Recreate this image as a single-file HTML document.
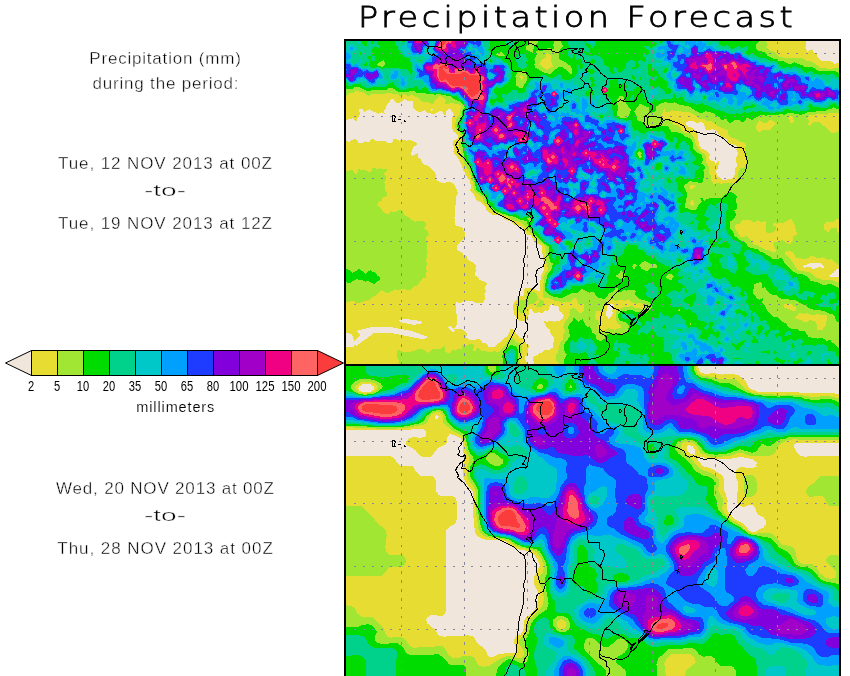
<!DOCTYPE html>
<html><head><meta charset="utf-8"><title>Precipitation Forecast</title>
<style>
html,body{margin:0;padding:0;background:#fff;}
body{width:850px;height:676px;overflow:hidden;position:relative;font-family:"Liberation Sans",sans-serif;}
svg{position:absolute;left:0;top:0;}
text{font-family:"Liberation Sans",sans-serif;fill:#000;}
</style></head><body>
<svg width="850" height="676" viewBox="0 0 850 676">
<rect width="850" height="676" fill="#fff"/>
<g id="map1" shape-rendering="crispEdges"><rect x="346" y="41" width="493" height="323" fill="#f0e6dc"/>
<path transform="translate(.5 .5)" fill="#e6dc32" stroke="#e6dc32" stroke-width="1" fill-rule="evenodd" d="M346,141 346,363 526,363 523,357 525,356 527,353 527,348 528,347 528,345 525,343 524,340 522,338 519,338 512,329 510,329 510,331 508,335 494,347 488,347 485,343 482,343 479,339 476,339 475,340 469,340 465,337 466,333 461,329 454,329 453,328 456,324 455,302 456,301 459,302 463,300 472,300 475,302 482,302 484,298 484,295 483,294 485,290 484,289 484,286 486,284 485,282 479,280 477,277 474,275 474,272 475,271 475,269 474,268 475,267 475,265 472,262 469,261 466,258 466,256 465,255 463,255 461,252 456,250 456,245 463,238 464,238 464,233 461,227 456,226 454,224 454,218 453,217 454,215 454,205 455,204 455,196 457,193 454,185 450,182 441,183 437,181 435,179 435,175 433,171 429,167 426,165 424,165 421,162 420,159 417,157 417,153 412,156 410,155 411,149 413,146 416,144 416,143 413,141 411,141 410,140 407,140 406,141 405,140 401,140 399,141 396,139 393,139 393,141 391,143 387,143 385,141 375,141 373,139 371,139 369,142 366,142 365,141 362,143 358,143 355,139 353,139 349,142ZM346,41 346,119 353,117 354,119 356,120 356,118 359,114 359,112 358,111 358,109 359,108 362,108 364,111 369,108 373,111 375,111 378,113 381,111 384,113 383,112 383,110 385,108 386,104 391,98 393,98 395,101 397,102 399,102 404,98 407,100 412,100 413,101 413,106 414,108 418,111 421,111 424,109 427,112 434,113 439,110 442,110 444,114 445,114 445,111 448,108 450,108 454,114 452,117 452,128 453,129 453,131 454,131 458,135 458,138 453,141 453,145 454,146 454,150 453,151 459,159 462,165 463,170 465,172 465,174 470,180 470,183 471,184 471,188 470,190 474,194 477,200 480,201 486,207 486,209 492,214 498,214 499,215 501,215 505,219 510,220 514,224 520,225 524,229 524,231 527,234 530,234 532,236 535,242 540,244 542,246 542,253 543,254 543,260 544,261 544,270 541,275 541,279 540,280 540,290 539,291 537,291 531,288 525,288 524,290 524,294 522,296 518,296 517,297 517,299 513,304 514,314 519,320 525,320 528,313 528,310 530,308 531,308 534,312 537,312 538,311 542,312 545,309 547,310 548,309 549,304 551,303 554,305 557,305 559,307 559,310 561,311 564,315 563,316 563,318 559,321 555,321 554,322 552,321 548,321 547,322 544,321 546,326 550,329 550,332 554,337 553,347 549,350 544,350 541,353 539,353 537,355 534,356 533,357 534,363 838,363 838,277 830,277 828,275 834,271 836,268 838,268 838,63 834,64 830,61 821,61 816,56 816,54 812,52 812,50 811,49 807,52 804,47 805,45 805,41ZM612,303 614,305 614,307 612,310 613,313 610,318 608,319 605,315 606,306 609,303ZM802,266 804,264 806,264 809,262 820,262 824,266 824,267 823,268 818,267 817,268 812,269 810,267 806,267 804,268ZM688,120 693,120 696,122 701,121 704,123 705,128 707,129 710,129 711,128 715,129 722,137 724,137 727,139 727,142 735,144 737,146 737,148 736,149 738,152 738,154 736,158 737,166 735,168 735,173 733,178 731,179 722,180 716,175 715,170 717,168 718,161 715,164 713,161 711,161 708,158 708,156 709,155 708,153 705,150 701,149 698,145 698,141 697,140 697,134 692,128 688,127 685,124 685,122ZM429,110 430,108 432,108 433,109 431,111Z"/>
<path transform="translate(.5 .5)" fill="#a0e632" stroke="#a0e632" stroke-width="1" fill-rule="evenodd" d="M521,343 517,343 515,342 511,337 507,341 506,344 498,352 496,352 495,351 493,351 492,352 481,351 478,348 477,348 475,351 473,351 472,350 473,345 472,344 470,344 466,346 465,345 462,345 462,348 461,349 452,350 450,353 447,353 444,351 444,346 440,349 432,349 428,353 422,349 417,349 414,351 411,351 410,352 403,352 398,350 397,351 397,357 399,360 399,362 398,363 519,363 519,357 521,353ZM543,301 542,300 539,300 537,298 537,296 534,292 529,291 527,292 526,298 524,300 520,300 517,304 517,308 520,312 523,312 525,310 526,306 529,303 533,303 537,299 538,299 539,300 539,302 536,306 541,306 543,303ZM386,169 381,169 380,168 379,169 376,169 375,168 372,168 372,170 370,172 368,172 365,170 360,170 358,169 358,171 356,174 354,174 352,170 346,171 346,301 354,300 355,301 355,303 356,302 363,301 366,299 367,300 372,296 375,295 381,289 387,292 395,288 397,289 400,289 401,288 410,289 414,285 416,285 422,277 425,277 425,272 426,271 425,269 425,266 426,265 425,259 426,258 426,252 427,251 426,250 426,241 425,240 425,237 428,234 427,231 423,228 425,225 425,223 423,221 417,221 415,222 411,220 408,217 404,216 401,210 398,210 395,212 392,212 391,211 388,214 386,214 384,213 376,204 378,201 381,200 381,198 383,196 385,196 386,195 386,192 384,190 384,183 383,182 385,178 385,176 383,174 383,172 385,171ZM346,41 346,95 349,92 353,92 355,90 362,91 368,95 371,93 385,93 386,92 397,93 399,95 401,95 404,93 407,95 412,94 415,96 417,96 422,101 428,101 431,103 432,103 434,100 439,95 440,95 446,99 445,103 453,102 454,103 458,103 462,106 460,110 460,114 456,119 455,127 462,136 461,140 459,142 459,147 461,151 461,156 464,160 464,162 467,168 469,170 469,172 472,177 474,190 483,197 483,199 485,203 486,203 494,212 497,212 504,215 507,215 509,217 515,220 520,221 540,242 543,243 546,247 546,262 547,263 548,270 545,273 543,278 544,279 544,282 543,283 543,296 544,297 549,297 550,298 552,298 554,300 558,300 561,302 563,301 569,301 571,300 573,297 575,297 577,299 578,303 583,303 584,304 584,310 581,313 579,313 574,308 570,309 570,311 569,312 570,313 570,315 564,323 564,325 563,326 565,330 563,335 563,339 560,342 558,352 556,354 556,360 557,360 559,363 838,363 838,282 835,282 832,280 822,280 821,279 816,278 809,272 805,272 804,271 799,271 797,270 789,258 784,254 784,252 786,250 790,250 793,252 796,257 806,258 810,255 813,255 816,257 821,257 822,256 828,259 829,258 831,258 838,264 838,233 836,231 836,228 831,228 829,232 827,232 823,229 823,224 827,220 829,221 833,221 836,218 838,218 838,131 835,133 831,133 819,122 813,122 810,126 807,124 808,120 806,118 809,114 815,114 816,113 824,113 826,114 828,112 838,112 838,68 833,68 832,69 820,68 814,63 809,61 806,61 802,58 783,58 782,57 779,57 774,52 770,51 765,47 767,44 765,41ZM794,317 799,312 801,312 802,313 807,312 810,314 815,314 816,313 818,313 819,314 825,314 827,316 827,320 826,321 826,325 822,330 817,330 816,329 816,324 814,321 809,320 807,322 803,322 801,320 796,319ZM783,304 784,303 791,303 796,307 796,310 795,311 792,311 789,309 784,308 783,307ZM644,304 644,307 642,309 640,309 639,308 634,308 632,306 630,306 629,307 624,307 617,310 616,311 616,319 618,323 621,325 621,327 620,328 618,328 615,330 608,328 603,332 601,332 597,328 598,321 595,319 594,317 594,315 595,314 594,313 596,310 601,310 602,309 602,306 610,297 614,300 617,300 618,299 622,299 624,300 628,298 632,302 634,302 635,303 637,302 641,302ZM798,234 793,236 793,240 790,244 788,244 782,240 778,242 774,242 774,246 777,251 773,253 767,250 765,250 756,245 754,245 746,236 744,237 740,237 734,228 734,225 736,223 739,223 741,219 750,219 752,221 755,221 757,219 761,221 764,220 766,222 766,231 767,232 771,232 775,229 775,226 773,226 772,225 772,223 773,222 775,222 776,223 778,222 783,222 791,217 795,225 796,231ZM691,199 692,199 694,202 694,204 692,206 688,203ZM689,188 689,185 690,184 694,184 696,186 692,189 690,189ZM648,124 650,123 651,125 650,126ZM755,128 755,125 759,119 763,122 766,122 769,119 771,119 777,123 774,125 770,130 762,130 760,132 757,132ZM787,116 788,115 791,115 793,117 794,121 792,123 790,123 789,122 789,120 787,118ZM621,112 622,111 623,113 622,114ZM662,109 664,108 665,109 665,111 669,111 672,109 674,110 680,110 681,111 689,111 695,114 699,118 704,118 706,120 711,120 719,126 727,129 728,130 728,134 731,137 734,137 740,141 743,141 746,144 746,146 745,147 745,153 746,154 747,161 745,166 743,168 740,168 738,173 738,178 737,180 734,183 723,183 722,184 716,183 715,184 713,184 710,180 710,175 708,173 708,166 705,162 705,155 698,150 697,147 695,145 694,139 690,133 685,133 683,132 677,125 673,125 669,120 667,119 661,119 660,118 660,114 662,112ZM520,74 523,76 523,78 521,80 518,76ZM547,52 551,55 552,57 551,58 551,61 552,62 552,64 554,66 546,70 538,64 540,60 542,58 545,57 545,54Z"/>
<path transform="translate(.5 .5)" fill="#00dc00" stroke="#00dc00" stroke-width="1" fill-rule="evenodd" d="M515,346 510,345 503,352 503,354 502,355 502,357 503,358 503,363 517,363 517,350ZM346,269 346,281 348,282 350,282 352,280 357,278 358,279 362,279 365,281 366,280 368,280 374,283 375,281 379,279 379,277 377,276 374,272 372,272 370,270 365,274 359,269 352,273 349,270ZM346,41 346,88 352,88 354,86 359,86 367,90 370,90 371,89 386,89 388,87 392,87 398,91 408,91 409,90 414,90 416,92 425,92 426,93 433,93 434,94 436,93 440,93 441,94 450,95 455,99 459,100 464,105 465,107 462,111 462,116 458,122 457,126 463,134 463,140 462,141 463,152 464,153 464,156 471,169 473,177 475,180 474,181 475,182 476,189 484,195 486,198 486,200 495,210 499,211 502,213 505,213 509,215 515,216 520,219 526,220 527,221 528,226 542,241 549,246 549,253 548,255 549,256 550,261 553,263 551,270 547,275 546,282 545,283 545,290 549,294 554,296 561,297 571,292 577,292 581,288 582,288 587,291 593,291 598,297 604,298 609,292 612,291 615,287 617,287 618,288 618,291 621,291 623,289 625,289 626,290 627,289 634,289 636,291 635,293 636,295 639,298 647,300 650,302 652,307 646,313 644,313 643,312 635,312 632,310 627,310 626,311 622,311 618,314 618,317 620,320 625,321 629,325 628,330 625,333 623,333 622,334 620,334 619,333 612,334 610,333 606,335 605,338 601,341 599,341 595,339 595,335 591,332 590,328 587,327 584,324 582,319 578,322 574,318 573,318 573,320 568,326 570,336 564,344 564,350 567,354 564,360 564,363 838,363 838,349 837,347 830,341 830,340 826,341 822,338 818,338 817,339 815,338 811,338 810,337 808,337 804,331 799,331 797,329 792,329 787,327 785,323 782,322 777,317 773,317 766,310 765,307 761,302 762,298 759,300 757,299 752,293 753,284 756,282 760,281 762,283 762,287 765,286 767,290 772,294 776,294 781,298 795,299 803,304 805,304 810,308 812,308 813,309 820,309 821,310 824,310 829,313 832,313 835,316 836,320 838,321 838,288 831,284 822,285 816,282 810,281 807,277 801,274 798,274 793,272 784,263 781,258 779,258 778,259 772,259 769,256 766,255 762,252 760,252 757,249 750,248 747,246 744,242 739,240 733,235 732,231 729,228 729,221 734,217 735,214 733,210 736,208 736,203 735,202 735,198 736,196 731,192 728,192 721,198 709,198 708,199 706,199 704,201 702,200 702,198 700,198 702,201 698,205 697,208 695,210 690,210 687,208 685,208 684,207 684,203 685,202 685,198 686,197 686,192 683,187 683,185 689,180 691,180 692,181 697,181 698,182 701,182 702,181 702,178 703,177 703,172 702,170 704,168 704,166 700,163 702,160 701,155 697,153 692,148 692,142 689,138 685,137 680,133 678,133 677,132 671,132 667,126 657,126 651,129 647,128 642,123 642,122 638,121 636,119 636,116 633,111 639,103 641,103 644,105 648,106 649,107 649,111 651,112 652,111 654,111 655,110 655,106 661,102 663,102 664,101 666,101 667,102 673,102 674,101 679,104 688,105 699,112 702,112 705,110 713,112 716,115 719,116 721,119 726,118 728,121 730,122 734,119 739,119 741,121 743,121 746,117 748,117 752,119 754,117 760,114 764,114 765,115 767,114 778,114 779,113 782,113 783,114 787,112 793,112 794,113 798,113 800,114 808,111 824,110 828,108 831,108 833,106 836,108 838,108 838,73 835,71 818,71 812,67 804,67 802,65 797,64 794,62 791,64 788,64 783,61 778,61 776,59 774,59 767,56 764,52 758,51 755,48 755,44 758,41 561,41 563,46 559,51 559,58 565,61 571,66 572,68 572,73 571,74 570,74 562,67 558,67 550,74 544,73 534,67 534,65 533,64 534,63 534,61 533,59 536,54 535,51 538,49 539,50 542,50 547,47 553,48 553,46 552,45 553,41 538,41 538,42 534,46 533,52 532,53 529,51 527,51 525,49 525,46 527,44 528,41ZM688,323 690,322 692,324 690,325ZM677,310 679,308 681,309 680,311 678,311ZM668,273 671,273 674,276 671,280 669,280 665,278 665,276ZM620,269 621,269 625,274 625,277 623,279 619,279 615,276 615,275 618,273ZM633,263 635,263 637,265 634,269 633,269 631,266ZM638,265 642,261 645,260 651,263 655,263 657,265 657,267 656,268 650,268 647,271 645,271 641,269ZM529,216 531,218 531,221 530,222 529,222 526,218ZM639,150 642,153 641,154 642,156 641,158 639,158 636,153ZM619,95 622,95 624,97 626,101 626,103 631,109 629,115 626,118 620,118 616,115 616,111 617,110 616,99ZM519,70 524,70 526,72 526,74 527,75 527,80 522,88 519,88 515,85 515,78 514,76 516,72ZM383,59 385,62 385,64 382,67 378,66 376,64 379,61ZM495,54 497,52 501,51 505,55 504,56 498,56Z"/>
<path transform="translate(.5 .5)" fill="#00d28c" stroke="#00d28c" stroke-width="1" fill-rule="evenodd" d="M510,349 505,354 505,358 507,360 508,363 515,363 515,360 514,359 515,352 513,349ZM615,341 613,349 614,350 617,350 619,352 619,354 620,355 618,357 616,357 615,358 614,363 625,363 625,361 626,360 628,360 629,361 629,363 647,363 648,358 646,354 642,355 642,358 641,359 639,357 640,356 639,354 635,355 634,354 630,354 628,352 627,348 630,346 625,343 620,343 619,344 617,342 617,340ZM619,346 620,347 620,349 618,351 617,350 617,347ZM570,342 570,350 571,352 577,352 579,353 580,352 585,351 588,354 588,356 589,357 589,361 588,363 596,363 595,361 593,360 593,357 594,356 598,357 598,355 596,355 595,356 593,354 596,348 596,346 590,338 589,339 584,339 581,337 579,338 576,342 574,342 572,340ZM790,332 787,331 784,335 790,334ZM621,314 621,317 632,319 635,322 641,325 640,322 636,318 635,318 632,314ZM838,300 836,303 834,303 831,305 828,302 828,299 829,298 833,298 835,297 834,293 833,292 831,292 830,293 828,293 826,296 822,295 820,298 823,300 823,302 818,304 818,305 819,306 830,306 833,310 835,310 835,306 838,304ZM644,285 647,289 646,295 649,297 656,298 657,297 657,292 658,291 657,290 657,288 654,286 653,283 648,283 646,285ZM744,252 744,255 746,258 746,260 750,263 748,266 745,267 745,269 754,274 767,273 768,274 768,276 771,279 773,284 777,287 778,290 782,290 784,293 787,295 790,295 793,293 795,293 799,298 801,298 802,299 806,299 806,296 807,295 809,295 811,297 813,296 814,293 813,292 809,292 808,291 804,291 801,294 799,294 797,292 799,289 797,278 796,277 792,278 786,270 779,267 777,265 771,265 768,261 764,259 761,255 756,254 749,250 746,250ZM754,268 756,267 757,269 755,270ZM633,95 632,95 630,98 631,100 633,98ZM657,76 655,76 653,79 654,80ZM518,54 516,57 516,61 518,64 518,66 521,68 525,67 526,66 526,64 525,63 525,61 526,60 525,55 523,54ZM505,41 506,43 512,47 513,42 514,41ZM346,41 346,81 348,85 350,85 354,83 360,83 362,85 367,87 371,87 372,86 385,86 388,83 393,81 394,82 394,84 400,89 405,89 408,87 413,87 415,85 416,85 418,88 420,89 422,87 425,86 427,87 429,91 431,92 441,92 442,93 448,93 452,95 456,95 463,101 466,106 466,108 463,112 464,115 461,122 459,124 459,126 462,129 464,133 464,146 465,147 465,151 466,152 468,160 471,164 471,167 473,170 473,173 476,179 477,187 480,191 486,194 488,196 488,199 493,203 494,206 501,211 503,211 510,214 513,214 514,213 521,217 526,216 530,213 532,215 532,218 533,219 533,222 531,224 532,228 536,231 547,243 550,244 552,246 552,248 553,249 552,256 553,258 555,259 555,256 556,255 559,255 560,256 560,258 559,259 559,264 555,266 553,270 553,272 548,278 548,282 546,287 550,292 552,293 561,293 561,291 565,288 569,289 572,285 582,285 586,283 591,283 592,282 595,282 600,288 602,288 606,283 606,277 609,272 609,266 612,262 615,265 617,263 617,262 613,259 612,254 614,253 618,256 623,252 623,249 627,243 629,243 630,244 636,244 639,249 642,249 646,253 646,254 650,255 652,258 654,256 657,260 663,263 665,265 668,265 672,269 677,267 679,269 678,275 679,276 680,276 681,274 683,275 683,277 681,279 678,280 678,282 680,282 684,285 688,291 686,293 684,291 684,288 683,287 682,288 682,290 679,292 673,290 668,293 666,295 672,299 671,301 671,305 672,306 680,306 681,305 685,309 689,308 693,312 695,312 697,315 697,318 698,319 705,321 708,324 704,327 704,328 706,329 708,327 708,323 710,321 712,321 714,323 712,326 713,330 714,331 718,330 720,333 719,336 717,338 715,338 712,334 710,334 707,340 701,339 698,337 701,332 701,330 699,330 696,327 690,327 688,328 685,324 685,320 682,319 681,318 681,316 676,314 670,318 666,315 665,316 663,316 660,312 659,313 659,317 658,318 654,318 651,322 646,321 645,322 645,324 638,330 637,333 639,334 639,333 642,331 646,333 648,332 651,328 652,328 658,336 663,336 664,337 663,339 664,341 664,348 663,350 665,351 667,350 672,354 672,359 674,363 747,363 748,362 749,363 754,363 756,360 758,360 760,363 780,363 779,362 776,362 773,359 776,356 782,359 784,359 785,360 784,363 792,363 792,361 793,360 796,360 799,357 801,357 803,360 801,362 798,363 827,363 826,360 828,358 832,363 836,363 838,361 838,357 835,355 835,353 832,351 828,351 827,350 827,347 823,344 821,344 820,345 818,344 815,346 813,346 812,345 804,345 802,346 800,344 802,342 802,340 801,339 797,339 794,341 791,339 789,339 784,342 782,342 781,341 781,336 778,336 776,338 774,336 774,334 779,331 777,329 776,330 771,330 766,337 763,333 765,330 769,329 768,325 765,323 766,321 765,320 763,320 761,322 759,320 757,315 754,312 752,313 752,315 754,317 754,321 752,322 750,320 750,312 751,311 748,308 748,305 745,302 745,300 747,298 746,293 744,291 745,295 742,297 739,294 739,292 740,291 740,288 737,286 735,287 731,287 728,281 724,277 721,279 714,278 710,274 709,271 706,268 708,266 710,266 711,265 711,263 709,261 709,259 708,258 708,254 712,251 716,253 720,253 723,255 723,257 719,259 719,261 721,263 721,265 723,268 726,268 734,273 737,267 736,261 731,253 733,251 736,253 739,253 741,245 736,241 732,240 730,236 726,232 726,230 725,229 725,211 727,208 727,205 725,203 722,203 721,202 717,203 715,207 711,204 709,205 704,215 710,218 709,220 706,221 706,224 711,230 710,232 707,232 705,230 705,228 702,230 698,230 696,228 698,221 697,220 695,220 694,218 697,214 693,214 688,212 683,212 682,213 680,213 679,212 678,205 680,204 680,203 678,203 677,202 677,198 679,196 681,196 682,195 681,193 677,190 677,184 674,180 675,178 679,175 683,176 684,178 686,178 687,177 693,178 694,177 694,170 698,168 698,166 694,165 691,162 691,161 695,159 695,158 689,150 689,146 687,145 684,141 682,141 679,144 679,147 676,149 674,147 674,145 676,142 676,138 674,137 673,138 673,141 672,142 670,142 665,138 664,133 662,131 659,131 658,132 656,131 648,131 644,134 640,133 637,130 635,130 634,131 631,126 631,121 630,120 626,121 625,120 615,118 612,114 611,105 609,102 610,101 610,99 608,97 605,96 601,92 601,90 602,89 609,87 608,81 610,79 613,79 615,77 617,77 618,78 618,83 622,83 624,81 627,85 626,90 632,90 636,86 638,86 641,84 643,87 640,91 644,94 644,97 647,99 647,101 648,102 651,102 654,98 657,100 661,98 671,98 672,97 672,95 674,93 676,95 676,97 677,98 681,95 683,97 684,100 687,102 693,102 696,104 702,102 704,104 707,104 713,107 715,109 719,109 720,110 725,111 728,113 735,113 736,112 740,113 744,111 748,112 752,110 756,111 759,109 762,111 774,112 775,111 782,111 785,108 788,108 791,110 797,110 799,111 800,110 805,110 809,108 807,106 809,103 811,103 813,106 818,106 819,107 826,107 833,102 835,102 836,104 838,105 838,77 835,77 833,74 829,74 828,75 825,75 824,74 822,74 821,75 819,75 818,74 813,74 811,71 809,71 806,73 805,72 803,72 800,68 797,68 794,66 791,68 789,68 788,67 781,68 778,64 774,61 769,61 765,58 759,58 757,56 752,54 747,55 745,53 745,51 747,49 747,47 746,46 742,48 737,46 731,50 727,45 725,46 721,46 718,43 718,41 663,41 662,43 659,43 658,41 653,41 658,43 651,48 649,48 648,46 644,46 649,50 649,53 647,55 645,55 643,53 643,55 646,57 646,60 644,62 639,60 638,61 639,66 637,68 633,70 631,69 631,67 632,66 634,66 635,62 632,60 630,60 626,63 626,67 621,72 618,73 615,67 614,67 613,69 615,72 613,74 611,74 608,70 608,67 603,64 603,61 599,56 597,56 596,55 593,55 592,56 585,55 582,51 583,50 585,50 589,52 589,48 588,48 584,44 584,42 585,41 589,43 591,45 591,47 593,46 595,43 595,41 585,41 584,42 583,41 568,41 568,44 570,47 568,52 568,55 571,58 572,57 572,54 574,53 575,54 575,58 576,59 577,58 580,58 582,60 582,63 583,64 583,67 581,69 580,69 578,67 578,65 577,65 578,72 574,77 569,80 564,80 561,78 561,76 559,74 552,78 549,78 545,75 541,75 538,77 531,79 525,88 525,91 522,93 518,93 516,90 512,90 506,95 502,94 503,101 501,103 496,101 493,105 491,105 489,102 489,99 490,98 495,98 496,97 496,95 493,92 493,89 496,86 498,87 502,86 509,80 511,75 511,70 509,68 507,63 503,62 500,58 497,58 491,55 490,52 487,49 489,46 489,41 405,41 404,43 402,43 401,41 395,41 395,44 398,46 398,49 402,53 402,54 405,57 408,57 410,59 410,61 412,64 412,70 413,71 411,74 410,74 407,70 405,69 400,69 399,68 390,68 389,69 387,68 381,69 378,67 371,68 368,65 369,61 366,57 368,55 371,55 372,56 371,57 371,60 374,60 374,56 372,56 371,55 371,49 372,47 375,45 378,47 379,46 376,43 376,41 374,41 372,44 370,43 370,41 367,41 367,45 366,46 364,46 361,43 361,41ZM786,360 787,359 789,359 790,361 788,362ZM784,359 785,358 787,359 786,360ZM732,358 733,357 740,357 741,358 740,359 733,359ZM781,352 782,351 783,353 782,354ZM809,349 811,351 811,353 809,355 807,355 806,354 806,352ZM773,350 775,349 777,352 774,354 773,353ZM770,351 770,353 769,354 767,354 766,353 761,353 760,352 762,350 766,350 767,348ZM792,342 794,343 794,345 795,346 793,349 791,347 791,345 790,344ZM716,342 718,340 720,341 721,343 720,344 718,344ZM745,340 744,343 741,346 739,350 736,350 734,347 731,345 731,343 732,342 736,344 738,342 744,339ZM752,335 754,335 758,340 758,343 757,344 756,343 752,343 750,341 752,339 752,337 751,336ZM729,330 730,329 731,331 730,332ZM749,328 751,332 751,334 750,335 748,335 745,333 745,331ZM677,329 678,328 681,328 682,330 680,331ZM760,324 762,325 764,328 759,335 756,335 755,333 757,330 757,326ZM663,324 665,324 666,325 666,327 664,329 661,327ZM734,311 736,309 739,308 741,310 744,310 748,314 748,315 744,317 740,313 736,314ZM715,302 718,300 720,303 719,304 717,304ZM694,292 696,294 696,299 693,302 693,305 690,307 683,301 683,299 686,296ZM729,288 730,289 730,291 729,292 727,290ZM689,276 690,277 690,279 688,280 687,278ZM559,266 560,268 558,270 557,268ZM679,257 681,258 681,261 680,262 678,262 677,261 677,259ZM619,246 620,245 622,246 621,247ZM589,241 590,243 587,245 586,243ZM566,240 571,241 573,244 573,246 570,249 568,248 568,245 566,245 564,243ZM708,240 710,238 714,240 716,240 719,236 722,239 719,241 718,243 721,243 723,240 726,240 731,245 728,248 723,248 722,247 721,248 719,248 716,245 714,247 712,247 708,242ZM693,219 694,221 692,223 689,224 688,223ZM715,207 716,206 718,208 716,209ZM660,207 661,206 662,208 661,209ZM666,178 667,177 669,177 672,181 669,184 666,181ZM649,178 650,177 652,178 651,179ZM686,162 688,164 687,166 684,164ZM656,162 660,162 662,165 660,170 655,170 654,169 654,166ZM638,148 641,148 643,150 643,155 644,157 642,160 639,160 635,156 635,151ZM599,114 602,114 603,115 603,117 601,119 597,116ZM755,105 755,106 752,108 747,108 745,110 743,110 742,109 742,107 745,105 750,105 752,103ZM702,96 703,95 705,95 706,97 704,99ZM590,88 594,92 594,94 593,95 586,96 584,93 586,90ZM640,76 641,77 641,79 640,80 638,78ZM590,76 592,76 595,80 594,81 595,85 591,88 589,86 591,82 588,78ZM409,77 411,76 412,77 412,79 411,80ZM632,74 633,74 635,77 635,79 633,81 631,78 631,75ZM387,74 388,75 388,77 387,78 386,77 386,75ZM587,69 588,68 592,68 594,69 595,71 592,74 590,74 587,71ZM666,67 667,68 667,71 665,73 663,73 662,71 663,69ZM649,62 652,64 652,67 658,71 659,75 660,76 662,76 663,78 667,81 668,83 667,87 669,87 671,89 671,92 669,94 665,94 664,93 664,91 658,86 655,88 652,88 648,84 648,79 651,77 647,74 647,64ZM366,61 368,64 366,66 363,66 362,64ZM592,58 595,60 595,62 593,65 591,65 589,63 589,61ZM490,58 492,59 492,61 491,62 489,62 488,61ZM421,58 422,60 420,61 419,60ZM358,52 360,51 361,52 361,54 360,55ZM575,48 576,47 577,49 576,50Z"/>
<path transform="translate(.5 .5)" fill="#00c8c8" stroke="#00c8c8" stroke-width="1" fill-rule="evenodd" d="M636,363 640,363 639,362 637,362ZM733,362 733,363 742,363 738,361ZM810,359 808,358 803,363 810,363ZM828,354 827,353 823,353 821,357 821,360 822,360 822,357 825,354ZM509,353 507,358 509,361 509,363 513,363 513,355 512,353ZM795,353 794,352 790,353 789,354 789,356 794,357 795,356ZM622,352 622,353 625,355 625,353 624,352ZM744,348 744,350 748,352 748,351ZM788,345 786,350 789,348 789,346ZM591,344 589,345 589,347 590,348 589,352 593,349 593,347ZM746,343 745,345 746,346 748,346 749,344 748,343ZM580,341 580,342 576,346 580,349 582,349 586,346 585,345 585,342 584,343ZM762,335 760,337 761,338 762,338ZM667,331 669,333 671,333 672,334 673,333 675,333 679,336 679,338 674,341 675,343 672,345 672,348 677,348 679,346 681,348 678,352 677,355 675,356 675,359 676,360 679,360 680,361 680,363 688,363 691,361 692,361 693,363 705,363 705,361 706,360 708,360 710,363 727,363 728,362 727,356 722,354 724,351 724,349 722,346 718,346 715,348 712,345 710,345 706,342 704,342 701,340 698,340 696,338 696,333 694,331 694,329 692,329 688,333 686,332 683,332 682,333 677,332 675,329 673,329 670,331ZM691,339 692,340 692,344 690,346 687,342ZM683,334 685,336 685,339 684,340 681,338 681,336ZM756,324 753,324 752,325 752,328 753,329 754,329ZM674,325 675,326 681,326 682,327 684,327 684,325 683,324 675,324ZM735,322 733,322 731,324 734,326 735,325ZM708,318 707,317 704,318 705,319 707,319ZM740,315 738,316 740,319 740,326 737,330 733,332 733,335 737,339 739,339 740,338 737,336 737,334 743,329 746,328 750,324 748,319 746,319 744,322 742,322 741,321 741,316ZM678,295 678,297 681,297 680,295ZM778,269 774,274 774,276 775,277 775,279 777,278 778,279 785,279 786,280 787,283 783,287 784,289 788,290 791,287 796,288 796,284 789,279 786,275 783,275 782,274 782,271 780,269ZM728,256 727,265 729,267 732,268 734,265 734,262 733,261 733,259 730,256ZM748,254 748,257 752,260 752,266 756,262 758,262 760,264 759,266 762,270 766,270 767,269 768,266 765,262 761,261 758,259 754,259 751,257 751,254ZM715,234 713,234 712,236 714,237 715,236ZM721,232 721,235 724,237 726,237 725,234 723,232ZM723,225 721,224 719,226 719,228 721,228ZM717,221 716,221 711,227 713,229 716,229 716,223ZM717,215 717,217 721,217 723,218 723,214 718,214ZM657,89 654,89 650,91 650,93 649,94 649,99 650,99 653,95 655,95 657,93ZM584,82 583,83 583,85 586,87 587,83 586,82ZM599,74 597,74 597,75 598,76ZM586,73 584,71 583,72 581,72 580,73 580,75 582,76 583,75 585,75ZM639,70 636,72 638,72ZM389,71 390,73 390,79 396,79 398,78 399,79 399,81 398,82 399,83 399,85 401,87 403,87 406,85 407,83 407,77 406,76 402,76 400,74 399,70 395,69 394,70ZM349,44 348,45 348,48 346,49 346,79 350,83 360,81 361,80 365,80 369,85 374,85 377,83 384,83 386,81 383,79 383,74 379,69 375,68 372,70 370,70 368,68 362,68 359,66 359,63 361,61 361,59 360,59 358,62 354,64 352,64 350,61 351,54 350,53 353,50 355,50 356,48 352,44ZM654,48 655,50 654,57 656,59 660,59 661,60 661,62 660,63 655,63 655,64 657,66 660,63 662,65 667,64 668,63 670,65 669,70 665,76 668,79 670,83 670,85 675,91 680,92 684,90 687,92 685,95 685,97 687,99 690,99 691,98 695,100 700,100 701,95 704,93 707,96 707,100 709,102 713,100 716,103 718,103 722,107 724,107 726,105 728,105 729,106 732,106 734,108 738,108 741,106 744,101 749,102 752,100 757,104 760,105 763,108 766,108 768,110 774,110 775,109 777,109 778,110 782,107 785,107 786,106 791,107 795,104 797,104 799,106 799,108 803,108 809,101 812,102 814,104 819,104 820,105 826,104 828,100 830,100 831,101 836,101 838,103 838,80 836,80 832,78 828,84 826,83 824,80 821,79 818,76 815,76 812,78 810,75 808,74 797,73 794,69 787,70 786,71 783,69 779,69 775,71 774,69 776,68 777,66 774,63 760,62 755,58 747,57 742,54 742,52 740,50 736,50 733,52 731,52 727,49 718,49 715,43 711,45 708,45 707,44 707,41 683,41 681,43 680,41 664,41 664,43 663,44 659,45ZM774,103 776,102 777,104 775,105ZM723,98 725,98 726,99 724,102 722,102 721,101ZM673,72 676,72 677,73 677,75 675,77 673,77 671,74ZM588,41 589,42 593,42 593,41ZM401,45 401,47 404,53 406,55 411,55 412,56 414,56 415,55 417,56 423,55 426,58 422,63 417,63 415,62 413,58 412,58 413,65 414,66 414,70 416,72 416,75 414,77 414,79 421,79 423,81 423,83 425,85 428,86 430,90 432,91 441,90 445,92 449,92 452,94 456,93 464,100 464,102 467,105 467,109 464,113 465,114 465,116 463,119 463,122 461,124 461,126 464,128 464,131 466,134 465,136 465,140 469,143 467,145 466,150 470,157 470,161 474,164 473,165 473,168 474,169 475,176 477,180 477,183 480,189 482,191 487,190 489,193 490,199 491,200 495,200 496,201 495,205 497,207 500,207 503,210 505,210 510,213 516,212 522,215 524,215 526,214 528,211 533,210 534,211 534,222 533,223 533,226 536,229 540,226 541,227 540,233 546,238 546,240 549,243 555,243 558,246 558,249 557,250 558,252 563,250 566,253 566,259 561,266 561,270 559,272 555,273 555,274 552,277 550,277 549,279 548,288 551,291 553,291 554,290 559,291 562,288 569,285 571,283 584,283 585,282 587,282 588,281 586,279 590,276 592,276 594,280 596,280 598,278 603,279 604,278 604,276 600,274 598,270 599,269 602,269 604,272 606,272 605,267 608,264 608,261 610,259 609,258 609,254 610,252 614,249 614,242 613,241 613,239 614,238 617,239 619,242 621,242 622,243 624,243 627,240 630,242 639,242 640,243 640,246 641,247 644,247 647,251 649,252 656,252 660,257 664,257 666,259 670,259 672,261 672,263 673,264 674,264 674,259 676,257 676,254 678,252 681,255 683,254 685,255 684,260 690,265 688,267 683,268 683,270 686,272 688,271 691,271 692,272 692,277 694,282 695,282 697,278 701,278 702,279 703,278 703,276 705,274 707,274 709,276 708,280 707,281 705,281 705,285 703,288 699,288 698,289 698,291 701,295 703,295 705,297 705,299 702,303 706,304 711,309 710,314 713,312 715,313 715,317 714,319 715,320 717,316 719,316 721,318 721,323 716,325 714,327 715,328 718,328 722,332 724,332 725,333 725,336 722,339 724,341 728,342 730,340 730,336 725,331 726,325 727,324 729,324 726,322 725,318 727,316 730,316 731,317 734,317 735,316 732,310 738,307 738,305 735,303 735,301 737,299 739,300 740,298 739,297 736,297 733,294 733,292 734,291 733,289 730,293 726,293 722,289 724,287 727,287 728,286 728,284 725,284 724,283 719,284 717,282 717,280 714,280 710,277 703,269 703,267 706,264 706,260 707,259 706,254 705,253 705,250 708,248 708,245 706,243 705,240 707,238 708,235 705,235 700,239 698,239 696,236 700,233 699,232 693,232 690,227 687,227 685,225 681,224 680,222 674,218 674,217 677,215 675,213 677,210 676,203 675,202 675,193 674,192 671,192 668,190 666,190 663,187 662,185 662,179 659,179 657,181 654,181 651,184 651,190 648,192 645,192 640,189 640,187 641,186 643,187 647,187 649,183 648,181 646,181 642,184 641,183 641,182 646,178 646,174 643,169 645,167 648,169 649,173 653,176 656,176 658,174 658,172 654,173 652,171 652,168 651,167 655,161 661,161 663,163 663,170 662,172 664,174 666,174 670,171 673,171 674,172 674,175 676,175 677,174 681,174 682,175 691,175 688,173 687,168 681,163 683,161 685,161 689,158 689,155 687,152 687,150 683,150 682,149 677,151 671,147 667,150 664,150 663,148 667,146 668,142 662,136 657,136 650,133 648,134 648,137 646,139 642,140 641,143 639,145 639,146 644,150 644,155 645,157 641,162 638,161 633,156 633,152 637,147 638,136 636,136 634,139 632,139 631,138 631,133 630,132 629,123 628,122 622,122 621,121 616,120 609,116 604,117 603,121 601,122 590,113 593,110 597,113 599,113 600,112 605,112 606,111 605,104 604,103 603,103 599,108 597,108 596,107 597,100 600,96 599,95 597,95 596,96 596,99 594,100 591,98 586,98 583,95 580,97 578,97 574,95 571,92 572,88 573,87 576,89 579,89 579,88 576,85 573,85 572,84 572,81 567,84 563,81 559,81 556,79 554,79 551,81 547,81 546,82 543,80 543,78 542,78 542,80 540,82 536,80 534,80 530,82 530,85 532,84 534,87 532,89 530,89 529,88 527,89 527,97 525,99 520,100 515,98 511,102 507,100 506,101 507,105 505,107 503,107 499,104 497,104 493,107 491,107 488,103 488,98 489,96 492,94 491,90 496,84 501,85 508,79 508,77 506,75 508,72 508,69 506,64 501,62 497,59 495,59 495,62 491,64 488,63 483,59 486,54 486,52 483,46 483,41 406,41 406,44 405,45ZM727,299 729,301 727,303 725,301ZM722,296 723,297 723,303 725,305 725,307 723,309 715,313 712,307 714,305 714,300 718,295 719,296ZM697,272 699,275 697,277 695,277 694,276 694,274ZM692,269 694,266 697,266 698,267 696,270 693,270ZM580,259 582,260 583,262 579,265 577,262ZM603,254 605,256 603,259 602,258 602,255ZM670,254 672,253 673,254 673,256 671,257 670,256ZM562,241 565,239 572,239 574,242 581,243 582,244 582,246 581,247 582,248 582,251 581,252 579,252 577,250 577,246 576,245 575,245 571,250 568,250 567,249 567,246 564,245 562,243ZM601,235 602,236 602,238 599,240 598,239 598,237ZM590,233 591,234 591,241 592,242 591,243 591,245 587,248 582,244 585,241 584,237 588,233ZM577,234 579,232 582,232 583,233 583,235 582,236 579,236ZM679,230 683,236 683,239 686,246 683,248 678,245 679,240 677,238 677,232ZM571,230 572,229 574,230 576,233 575,234 573,234 571,232ZM565,227 567,226 568,228 567,229ZM589,223 590,222 593,222 596,226 599,226 601,229 598,231 594,227 590,226 589,225ZM570,219 572,219 574,221 572,224 569,224 568,223 568,221ZM535,216 536,215 538,215 539,216 537,218ZM661,204 662,204 664,207 664,211 663,212 659,209 659,206ZM497,198 497,196 498,195 500,195 501,196 499,199ZM601,195 602,193 604,194 602,196ZM571,192 573,191 575,193 574,194 572,194ZM587,191 588,189 590,189 591,190 589,192ZM575,185 577,184 578,186 577,187ZM570,183 573,185 571,187 568,185ZM592,181 595,183 593,186 590,184ZM581,174 582,173 584,173 586,176 585,177ZM538,172 536,174 531,174 529,177 527,177 526,176 526,173 532,169ZM673,171 673,167 674,166 676,166 678,169 675,172ZM671,165 672,164 674,165 673,166ZM633,164 635,163 636,165 634,166ZM675,162 676,161 679,161 680,163 679,164 676,164ZM663,157 664,156 666,156 668,158 668,160 666,162 663,159ZM683,154 684,153 686,153 688,155 685,157ZM509,153 511,152 512,154 511,155ZM504,147 507,144 509,144 511,146 509,149 506,149ZM628,142 630,141 631,143 629,144ZM528,141 530,140 532,143 530,145 528,143ZM538,132 540,131 541,133 539,134ZM540,109 540,107 541,106 544,106 545,107 543,110 541,110ZM566,105 567,105 569,108 567,110 565,110 564,109 564,107ZM562,104 563,105 563,108 559,111 558,110 558,107 560,104ZM566,101 568,100 569,102 567,103ZM574,98 575,97 577,97 579,99 579,101 577,103 574,101ZM567,96 568,95 570,95 571,97 569,99ZM552,84 554,83 556,84 557,86 556,87 554,87ZM491,74 492,75 492,77 491,78 490,77 490,75ZM424,49 425,48 427,48 428,50 426,52ZM468,47 470,46 472,48 470,50ZM431,44 432,43 433,45 432,46ZM357,41 357,42 359,43 359,41Z"/>
<path transform="translate(.5 .5)" fill="#00a0ff" stroke="#00a0ff" stroke-width="1" fill-rule="evenodd" d="M681,342 681,345 683,346 683,349 686,349 686,345 684,342ZM726,337 725,339 727,340 728,338ZM679,355 679,356 686,362 692,359 695,363 703,363 703,361 706,358 709,359 711,363 723,363 723,362 726,360 726,358 725,357 723,357 720,355 720,353 719,352 722,350 721,348 720,348 720,351 719,352 714,352 710,346 708,346 705,343 702,343 699,341 697,341 694,338 692,334 689,334 688,335 688,337 691,337 693,339 695,344 699,344 700,345 699,347 701,350 703,351 706,349 708,350 709,352 707,354 701,354 697,357 695,355 696,353 696,349 694,348 691,352 686,352 684,354 680,354ZM720,326 719,327 723,330 724,327 723,326ZM747,323 744,324 744,325 746,326ZM731,304 727,305 727,307 724,310 720,311 718,314 722,316 724,316 728,308 731,306ZM708,295 707,297 707,302 709,305 711,305 713,303 714,298ZM789,281 788,282 789,283 789,285 792,285 792,283ZM706,283 706,288 711,287 713,289 712,290 712,292 716,292 721,295 724,295 730,300 733,300 734,299 733,296 731,294 726,295 720,289 720,287 721,286 718,287 715,284 715,282 712,281 709,283ZM595,276 595,277 597,276 601,277 601,276 598,274ZM700,269 699,271 700,272 702,272 702,270ZM605,263 603,262 602,263 602,265ZM576,239 576,240 578,241 581,241 581,239 580,238 577,238ZM670,245 670,248 668,250 669,251 674,251 677,249 679,250 681,253 689,253 690,254 690,256 689,257 687,257 686,259 691,263 691,265 695,265 698,263 701,263 701,262 705,259 703,251 705,249 706,245 702,246 700,244 702,240 698,241 694,237 690,237 690,241 695,245 691,250 687,247 683,249 682,248 677,247 672,243ZM685,229 683,229 683,233 684,233ZM673,194 671,194 670,195 672,198 673,197ZM654,187 654,189 655,190 656,188ZM680,166 681,168 678,172 684,174 685,173 684,168ZM664,165 664,170 667,171 669,167 667,165ZM641,145 644,148 644,152 645,153 645,160 643,162 643,164 644,165 648,165 652,161 655,160 657,157 659,157 662,155 666,155 667,154 669,155 669,159 671,162 674,162 677,159 679,160 683,160 685,159 682,156 682,153 683,152 682,151 680,151 676,156 674,155 674,151 673,150 671,150 669,152 667,151 665,151 664,152 662,150 662,148 665,146 667,143 662,138 658,138 650,135 650,137 652,137 654,140 651,142 648,140 646,140ZM591,102 590,103 590,105 592,106 593,105 593,103ZM560,83 560,86 562,87 562,83ZM401,78 402,80 401,81 401,84 403,85 404,84 404,82 403,81 403,79ZM397,71 394,71 394,73 391,75 391,78 395,78 397,74ZM346,62 346,78 351,82 355,81 357,78 363,77 366,79 369,83 372,84 373,83 375,83 375,80 378,77 380,78 382,77 377,69 375,69 372,71 370,71 367,69 361,69 356,64 352,66 349,62ZM346,52 346,59 347,59 350,57 350,55ZM350,47 350,49 352,49 352,47ZM655,54 657,57 660,57 664,55 665,56 664,60 667,60 671,63 671,70 667,74 667,76 671,80 672,80 672,78 670,75 670,71 673,68 674,68 676,71 678,71 680,73 680,74 675,79 674,79 674,81 675,82 674,87 676,90 680,90 681,89 685,89 688,91 689,96 691,96 693,94 693,92 695,90 697,90 700,93 702,92 707,93 709,95 708,99 710,100 711,99 715,99 718,101 723,96 725,96 728,99 728,103 731,104 733,101 731,97 734,95 738,99 737,101 737,104 738,105 741,103 743,99 750,99 751,98 753,98 755,101 760,101 762,98 764,98 765,100 762,102 762,104 767,105 769,109 772,109 773,108 773,107 771,107 768,105 774,100 778,102 778,105 776,107 777,108 779,108 781,106 783,106 784,105 791,105 793,103 798,103 801,105 803,103 803,101 804,100 807,100 808,99 809,100 811,100 813,102 818,102 819,103 821,103 828,98 831,100 837,100 838,101 838,89 837,88 832,89 830,86 824,86 822,81 817,78 816,78 813,82 810,80 809,76 798,75 794,72 787,72 786,73 783,73 781,70 779,70 776,72 773,72 772,71 772,69 775,66 774,65 769,65 768,66 766,66 762,63 758,63 757,61 755,60 750,60 748,58 744,56 742,56 740,52 730,53 726,50 724,51 723,50 718,51 715,49 713,49 712,47 710,46 706,46 705,45 705,43 703,43 701,41 697,41 698,42 697,44 695,43 695,41 685,41 685,44 687,43 690,45 690,47 688,49 685,48 683,46 681,46 678,43 677,44 674,44 673,43 673,41 665,41 667,44 666,46 660,46 658,47 658,49 663,48 665,50 664,53 662,54 659,52 657,52ZM794,96 796,99 794,101 791,101 790,99ZM791,92 793,91 796,95 794,96ZM711,91 713,92 713,95 712,96 708,94ZM742,85 744,85 750,89 751,92 748,95 746,95 744,92 740,92 739,91 739,89ZM815,84 817,83 818,85 816,86ZM694,84 695,83 697,83 699,85 699,87 698,88 696,88 694,86ZM672,58 673,57 676,57 677,59 676,60 673,60ZM704,46 706,47 706,49 705,50 703,50 702,49ZM682,46 684,50 681,53 677,53 676,52 677,51 677,49 680,46ZM415,65 415,69 418,73 416,77 422,78 424,81 427,83 432,90 441,89 442,90 449,91 452,93 457,92 467,103 468,105 468,109 465,112 466,116 464,119 465,121 464,126 466,128 466,130 465,131 467,134 466,139 467,140 469,140 471,142 467,150 469,153 473,156 471,159 475,164 474,166 475,167 475,173 476,174 476,177 477,178 478,183 481,186 481,188 482,189 484,189 484,187 483,186 485,184 492,194 491,195 491,198 495,198 496,195 499,192 503,195 503,197 497,202 497,205 498,206 500,206 510,212 521,210 524,213 527,210 534,209 536,212 540,215 540,217 535,222 534,226 540,225 543,228 542,233 545,236 551,237 553,239 553,241 557,242 560,245 562,249 565,249 565,246 563,246 559,241 565,238 570,238 572,237 572,235 569,232 567,232 565,230 562,231 558,226 558,224 562,221 565,221 566,223 566,221 568,219 573,218 575,221 574,223 570,226 570,227 578,230 581,230 585,233 588,231 595,232 595,230 592,227 589,227 588,226 587,223 589,221 593,221 596,224 600,225 603,229 601,232 603,235 603,239 599,242 597,242 596,241 597,237 593,237 592,238 593,240 593,246 589,249 584,249 584,251 580,254 578,253 575,249 573,249 567,253 567,261 568,263 563,265 562,267 562,271 550,280 550,285 549,286 550,289 559,289 565,286 568,281 571,281 572,282 574,282 575,281 582,282 583,281 583,278 585,276 588,275 590,271 594,270 598,267 598,262 597,261 600,258 600,254 602,252 602,249 604,248 606,250 606,254 607,254 608,253 608,251 612,248 611,239 613,237 616,237 621,241 624,241 626,239 629,239 632,241 635,237 637,238 637,240 640,240 640,238 644,233 651,232 652,233 652,236 651,237 649,237 648,236 647,237 649,245 654,246 656,248 659,249 662,253 663,251 666,249 664,247 664,243 671,237 674,239 671,235 672,233 675,231 676,228 678,226 678,223 675,221 672,217 667,216 663,219 665,220 669,219 670,220 668,223 668,225 666,226 664,222 658,222 656,220 656,218 657,217 656,214 658,212 658,206 659,205 657,202 658,200 662,202 665,205 665,209 666,211 669,213 672,212 676,209 675,207 675,203 673,200 670,200 666,197 667,192 661,187 660,187 660,188 663,191 659,194 655,192 654,193 650,193 648,195 646,195 644,193 640,192 638,190 637,187 639,185 639,181 641,179 644,178 644,175 642,172 641,167 639,165 637,165 637,166 634,168 630,164 634,161 633,159 630,159 629,157 630,155 632,154 632,152 635,147 635,142 634,142 631,146 628,146 624,143 624,141 627,138 629,138 630,136 629,133 627,131 627,124 626,123 619,123 618,122 616,122 614,120 606,120 606,121 603,123 602,125 600,125 597,119 590,116 587,112 585,112 584,111 584,109 587,106 587,103 586,102 586,100 583,98 582,98 582,111 581,112 576,107 577,105 576,103 572,100 571,100 571,102 570,103 570,108 571,109 571,111 575,111 576,113 579,113 580,112 584,116 584,120 582,122 579,120 578,117 574,117 572,115 569,115 567,112 565,114 562,112 560,115 561,117 560,119 558,120 557,119 558,114 556,111 556,109 558,106 558,102 559,101 561,101 560,100 560,98 562,96 564,96 566,94 570,93 570,89 569,88 567,88 564,92 559,93 557,89 553,90 551,88 551,86 549,83 541,83 539,84 535,82 536,87 533,90 529,92 529,96 527,99 523,101 514,101 512,103 508,104 508,106 505,109 499,106 496,106 490,109 486,104 487,99 488,98 488,95 490,92 490,89 496,83 500,84 503,81 506,80 506,78 504,76 506,66 501,63 490,65 484,61 480,62 478,60 479,56 478,55 474,55 473,54 474,50 472,51 468,51 466,48 469,44 471,44 473,47 476,47 482,55 483,53 483,49 481,46 481,41 435,41 434,46 432,48 435,53 431,55 429,59 425,61 422,64 422,68 421,69 416,64ZM583,259 584,260 584,263 580,266 577,266 575,263 576,261 579,258ZM605,243 606,242 608,243 607,244ZM625,234 625,232 626,231 628,231 630,233 628,236ZM638,230 640,230 641,231 641,234 640,235 638,235 636,233ZM673,223 674,224 674,226 673,227 672,226 672,224ZM620,219 623,222 623,224 620,227 617,227 616,226 617,225 617,221ZM628,206 630,205 632,207 631,208 629,208ZM638,203 641,201 643,202 643,204 642,205 640,205ZM654,197 655,196 656,198 655,199ZM644,196 645,195 650,199 650,201 649,202 645,202 644,201ZM626,197 629,195 631,196 631,198 630,199 627,199ZM602,191 604,191 606,193 606,195 604,197 601,197 599,195ZM586,192 586,190 589,187 594,188 596,190 595,192 592,192 591,193 587,193ZM561,184 563,183 564,185 562,186ZM611,182 614,185 614,187 612,189 609,186 609,184ZM569,181 572,183 575,183 576,182 578,182 579,183 579,189 578,190 575,188 573,188 573,189 576,191 576,195 574,197 571,197 569,193 570,189 567,186 567,183ZM596,174 598,176 595,179 595,181 597,184 593,188 592,188 589,185 589,182 590,180 592,179 593,175 594,174ZM550,175 552,174 553,175 553,177 551,178 550,177ZM636,171 639,173 638,178 637,179 636,179 632,174ZM578,170 580,169 582,171 585,172 589,175 589,177 587,179 584,179 582,177 578,178 577,177ZM525,176 525,172 531,168 535,168 536,169 539,168 541,170 536,176 532,176 530,178 527,178ZM533,147 534,148 534,150 533,151 532,150 532,148ZM476,146 477,148 474,151 471,148 473,146ZM477,145 478,144 480,144 481,145 480,146 478,146ZM537,143 539,142 541,145 538,147 537,146ZM514,154 513,156 511,157 508,155 508,151 507,150 502,148 500,149 497,148 494,151 493,150 493,147 494,146 497,146 500,143 506,144 509,142 513,145 512,150ZM529,139 530,139 534,144 532,147 530,147 527,144 527,141ZM615,138 617,137 618,139 617,140ZM555,131 556,132 553,136 550,138 549,137 551,133 553,131ZM595,131 596,130 598,130 600,132 597,134ZM538,129 540,129 543,133 541,135 539,135 536,132ZM584,127 584,125 587,123 591,126 587,129ZM551,124 552,123 554,124 553,125ZM532,123 535,125 535,128 533,130 531,130 529,128 529,126ZM547,115 548,114 551,114 555,118 555,120 553,122 551,120 548,120 547,119ZM486,111 487,110 489,111 488,112ZM537,108 541,104 543,104 546,107 546,110 545,111 540,112ZM537,101 537,99 538,98 542,98 543,99 542,102 540,104ZM487,73 488,72 490,72 493,74 494,76 491,79 489,79 487,77ZM407,41 407,46 410,49 412,54 415,54 416,53 417,54 420,54 423,52 423,48 424,47 429,47 429,41Z"/>
<path transform="translate(.5 .5)" fill="#1e3cff" stroke="#1e3cff" stroke-width="1" fill-rule="evenodd" d="M701,357 696,363 701,363 702,361ZM685,357 685,359 686,360 688,360 689,359 688,357ZM705,357 709,358 712,362 714,362 715,363 722,363 722,361 723,360 723,358 722,357 716,358 715,357 715,354 709,354ZM724,311 722,311 720,313 723,315 724,314ZM729,296 730,298 732,298 731,296ZM715,287 714,288 716,291 718,291ZM707,287 709,287 712,285 711,284 707,284ZM687,251 687,249 681,250 683,252ZM701,247 695,247 693,249 692,256 690,259 693,259 695,261 693,263 694,264 699,261 703,256 703,254 702,253 703,248ZM610,246 608,246 607,248 609,249 610,248ZM603,242 602,241 599,243 598,247 596,250 591,250 592,252 591,254 588,254 586,251 583,254 578,255 574,251 571,251 568,254 568,259 570,262 571,268 569,270 565,270 564,269 564,270 560,273 558,276 555,277 551,281 551,283 552,284 551,285 551,288 554,289 555,288 562,287 565,284 565,282 567,279 571,279 574,276 576,276 577,277 577,279 581,281 582,280 582,273 586,271 584,268 584,266 586,264 590,264 592,262 596,261 599,257 598,252 600,250 600,248 603,245ZM555,280 558,282 556,284 553,282ZM578,256 586,260 586,262 580,267 576,267 574,265 574,262ZM693,239 692,240 693,242 695,242 695,240ZM634,233 632,233 630,236 631,238 635,235ZM584,222 583,223 584,226 582,229 584,231 586,231 587,230 587,228 586,227 586,222ZM658,195 658,198 661,199 667,206 670,203 672,203 673,204 673,205 670,207 668,210 669,211 671,211 674,208 673,202 671,202 665,199 660,195ZM652,195 650,196 651,198 652,197ZM667,167 665,167 665,168 666,169ZM637,167 637,169 641,172 640,173 640,177 641,178 642,177 642,174 640,171 639,167ZM670,157 672,161 676,158 681,158 680,156 676,158 674,158 672,155ZM665,142 661,140 657,142 655,140 651,143 646,142 643,144 643,146 645,149 645,153 646,154 645,164 647,164 650,159 653,159 655,156 659,155 659,154 657,154 655,151 656,150 659,150 660,151 662,146 666,144ZM573,103 572,104 572,108 574,108 575,107 575,104ZM799,100 798,102 800,103 801,101ZM556,93 553,96 549,93 545,93 544,94 544,96 545,97 544,103 547,106 547,110 548,112 550,112 551,111 551,108 553,106 556,106 557,105 556,100 558,98 558,95ZM715,92 715,95 716,96 718,96 717,92ZM546,85 543,85 542,86 542,88 538,96 539,97 541,96 541,93 545,90ZM805,77 805,78 808,80 808,77ZM346,64 346,68 347,69 346,71 346,77 350,81 354,80 356,76 361,76 363,74 367,79 371,82 373,82 374,81 374,79 378,76 378,73 376,70 373,72 369,72 367,70 363,72 357,67 351,67 349,64ZM673,62 673,65 677,68 677,70 681,70 682,71 682,73 676,79 677,87 678,88 686,88 690,93 691,93 694,89 694,87 692,85 692,80 694,79 696,82 700,84 701,86 700,91 702,90 707,91 712,88 713,89 717,89 719,91 723,91 724,93 733,93 734,94 736,94 737,93 737,91 735,89 735,84 736,83 738,83 739,84 742,83 747,86 749,86 752,90 752,94 748,97 751,95 753,95 755,98 758,100 764,96 770,100 776,99 780,104 786,104 787,103 787,100 786,99 787,97 786,91 787,90 794,90 798,93 801,98 808,97 815,101 821,101 822,100 824,100 827,97 830,97 832,99 837,98 838,91 837,90 832,90 828,87 825,87 822,90 820,89 816,89 812,87 808,92 806,92 805,91 807,87 807,84 802,83 800,81 800,78 795,74 793,74 792,75 790,75 789,74 783,74 780,71 776,73 772,73 770,71 770,69 772,66 770,67 765,67 763,65 756,65 755,64 755,62 751,62 747,59 742,57 739,53 730,54 726,51 724,52 722,51 712,51 710,50 709,48 703,52 698,52 697,51 697,46 694,45 691,48 691,54 688,57 686,57 684,54 677,55 678,60 676,62ZM778,93 780,90 782,91 780,94ZM711,86 712,85 714,86 713,87ZM773,83 774,82 776,82 778,85 775,88 773,86ZM719,85 719,83 720,82 722,82 723,83 721,86ZM782,78 783,79 783,81 779,83 777,80 779,78ZM688,72 690,73 690,76 689,77 687,77 685,75 685,74ZM681,58 683,58 684,59 684,62 682,64 680,64 679,63 679,61ZM667,41 668,46 672,49 670,51 667,51 667,53 668,54 667,58 668,59 670,59 670,58 674,55 675,50 678,45 673,45 670,43 669,41ZM436,41 435,45 433,48 434,50 438,53 438,54 437,55 434,55 432,57 432,61 431,62 426,62 423,65 423,70 422,71 417,68 417,70 419,72 419,76 421,76 424,74 427,74 429,76 429,81 430,82 430,85 432,88 435,88 436,89 437,88 441,88 442,89 449,90 452,92 459,91 461,95 468,102 468,104 470,108 469,110 466,112 466,114 467,115 467,117 466,118 466,126 467,127 467,129 466,131 469,135 469,137 468,138 472,141 472,143 473,144 476,144 480,142 482,144 485,145 489,149 491,149 491,146 493,144 498,144 500,142 506,143 508,140 509,141 513,141 515,138 516,139 515,141 516,144 519,144 522,141 525,143 525,145 520,149 518,149 515,146 513,148 513,151 516,157 515,158 510,158 509,157 507,157 504,159 503,158 503,155 507,153 507,151 505,150 498,151 497,152 499,154 498,156 493,153 492,154 492,156 491,157 489,157 484,150 480,150 478,149 476,151 473,152 469,149 469,150 474,155 474,161 476,166 477,178 479,183 480,184 485,183 489,180 490,181 489,188 493,191 500,190 503,192 504,197 503,199 498,203 498,205 502,206 509,211 514,211 518,209 526,210 527,209 529,209 531,207 534,208 542,216 542,217 535,224 536,225 537,224 539,224 544,227 543,233 545,235 551,235 553,236 555,239 557,237 561,239 565,237 561,232 555,229 555,226 556,225 555,222 558,220 560,216 564,216 567,218 574,217 575,218 576,223 577,222 579,222 582,218 585,218 588,220 594,220 597,223 599,223 604,228 609,227 612,229 611,231 604,234 605,237 606,236 611,237 614,235 616,235 622,240 624,240 626,238 625,236 622,236 621,237 619,235 621,232 623,232 623,230 622,229 616,230 614,227 613,222 618,218 621,218 626,222 628,222 629,220 631,219 636,225 635,229 640,228 645,232 651,230 653,232 654,237 650,240 650,243 652,243 653,241 656,243 656,245 658,247 662,249 662,246 661,245 659,245 657,242 658,241 663,242 670,235 670,232 669,231 669,229 668,228 665,228 662,224 658,226 656,224 653,218 655,211 658,205 653,201 649,204 646,204 646,207 639,215 638,215 635,211 638,208 640,208 640,207 636,208 634,212 632,212 630,210 628,210 627,211 625,211 624,210 624,209 629,204 633,205 633,203 636,199 636,193 637,192 637,190 634,188 634,185 636,182 630,175 628,175 627,174 629,171 630,172 633,172 635,170 632,167 628,165 628,155 625,152 626,146 616,141 614,141 612,139 612,137 614,134 614,131 616,129 618,130 619,136 622,140 626,136 628,136 627,134 625,134 624,133 624,128 625,127 624,125 621,125 620,124 612,122 611,123 607,123 606,124 607,125 607,128 606,129 604,129 601,127 599,127 597,125 597,123 598,122 597,120 592,119 588,115 586,115 585,117 585,121 589,121 591,123 593,123 597,126 597,128 601,131 601,134 600,135 595,135 593,132 593,129 589,129 588,130 584,129 576,118 574,118 573,119 570,117 566,117 565,116 562,118 562,120 561,121 562,123 560,125 559,124 557,124 555,127 552,128 549,125 550,122 545,120 546,116 544,113 540,114 535,109 534,109 532,113 529,111 532,105 535,106 537,104 536,102 536,96 534,94 534,93 538,90 537,89 536,90 534,90 531,93 531,96 527,100 523,102 517,102 514,104 509,105 509,108 511,108 512,109 510,111 506,111 503,109 496,107 491,110 489,114 487,114 484,111 484,108 485,107 485,103 487,99 488,88 489,87 491,87 496,82 501,82 501,81 503,80 503,75 504,74 503,68 504,66 502,65 494,65 493,66 493,68 492,69 490,69 489,71 494,73 496,75 493,79 489,80 486,77 487,69 485,67 485,63 482,63 481,64 474,64 472,60 476,57 473,57 471,55 471,53 469,52 464,53 459,49 460,47 464,48 468,42 470,42 473,44 475,43 478,46 480,44 480,41 476,41 475,43 473,41ZM658,231 660,229 662,229 664,230 665,232 662,234 661,233 659,233ZM640,219 641,218 643,218 644,220 643,221 641,221ZM606,213 609,215 609,217 610,218 610,220 609,221 608,221 604,217 604,215ZM612,213 613,212 615,213 614,214ZM610,212 611,211 613,212 612,213ZM564,209 565,211 562,213 561,211ZM648,207 649,206 652,206 654,208 652,210 650,210ZM565,200 565,198 566,197 569,197 570,198 568,201 566,201ZM564,189 567,192 565,195 563,193 563,190ZM601,187 602,186 603,188 602,189ZM491,187 491,185 492,184 494,184 495,185 493,188ZM608,181 612,181 616,185 617,184 619,184 621,182 624,184 624,187 625,188 624,190 622,190 618,188 616,189 616,191 618,194 617,196 618,198 621,199 625,194 628,194 630,192 633,196 633,198 631,200 625,200 624,201 624,204 622,206 620,205 618,206 618,207 622,207 623,208 623,210 621,212 617,212 612,205 613,202 615,200 615,197 606,197 605,198 601,198 598,195 598,193 602,189 607,192 610,192 610,189 607,183ZM604,179 605,178 608,181 606,182ZM616,178 617,177 619,177 621,179 621,181 620,182 617,181 616,180ZM564,171 566,170 567,172 565,173ZM548,174 554,169 556,171 554,175 557,180 559,182 561,182 562,181 565,183 566,183 569,179 573,182 577,181 577,179 575,177 575,175 576,174 577,168 579,166 581,166 582,167 582,169 584,171 591,174 594,170 595,170 597,173 602,172 604,174 599,179 597,179 597,181 598,182 598,185 597,186 598,193 597,194 586,194 584,191 588,185 588,181 582,180 580,182 580,192 573,198 570,198 569,197 569,195 568,194 568,189 567,188 562,188 561,187 558,188 556,186 555,183 549,179ZM586,162 587,161 589,161 590,162 590,164 588,166 586,164ZM543,163 541,165 541,167 543,171 538,176 537,181 536,182 533,181 531,179 527,179 523,176 524,169 520,164 521,162 523,164 525,164 528,162 532,162 534,164 534,166 535,166 536,164 540,161ZM494,162 496,161 497,163 496,164ZM536,156 538,155 539,157 538,158ZM523,150 526,152 524,154 522,154 521,153ZM594,147 596,145 598,146 597,148 595,148ZM526,140 528,138 531,138 534,142 536,141 541,141 543,144 539,149 537,149 533,153 526,145ZM488,139 490,138 491,140 489,141ZM596,140 600,137 603,141 605,141 607,143 611,143 613,142 615,145 612,148 610,147 604,148 600,143 598,143ZM594,136 595,137 595,139 593,141 590,141 589,139ZM569,131 572,133 572,137 571,138 569,138 568,137 568,132ZM559,128 560,129 560,131 555,135 556,140 549,145 547,144 546,142 548,139 548,134 550,131 555,128ZM530,121 533,121 535,123 537,128 540,128 543,131 544,133 541,137 536,135 533,131 530,131 527,128 527,126ZM519,120 521,119 523,122 520,124 519,123ZM490,116 491,117 491,119 490,120 489,119 489,117ZM473,106 475,108 475,110 474,111 471,109ZM432,86 433,85 434,87 433,88ZM465,57 465,56 468,54 471,56 468,59ZM408,41 408,42 411,42 412,43 411,48 413,52 418,52 419,53 421,52 422,47 424,45 426,45 427,46 428,45 427,41Z"/>
<path transform="translate(.5 .5)" fill="#8200dc" stroke="#8200dc" stroke-width="1" fill-rule="evenodd" d="M721,358 718,360 720,363 722,360ZM712,358 712,360 714,360 714,359ZM553,285 552,287 554,288 555,286ZM561,275 556,278 556,279 560,282 560,284 559,285 560,286 562,285 560,282 561,281ZM566,273 566,277 569,277 571,275 576,274 578,276 578,278 579,279 581,279 580,272 582,270 582,268 578,269 573,266 572,267 572,270 571,271 567,271ZM571,253 569,255 569,257 572,262 574,259 572,257 572,253ZM598,256 597,255 597,253 595,251 593,252 593,254 591,256 588,256 585,254 582,255 582,257 583,258 585,258 588,262 591,262 591,257 592,256 594,256 595,257 597,257ZM696,248 694,249 693,257 695,259 699,260 701,258 701,251 702,249 700,248ZM655,234 655,235 657,236 659,239 661,240 663,240 664,239 664,236 659,234ZM603,223 603,225 604,226 609,225 612,227 612,225 611,224 609,224 605,221ZM626,218 625,219 627,220 627,218ZM577,218 576,220 578,221 579,219ZM624,212 622,212 622,214 623,215 624,214ZM652,211 651,212 653,214 653,211ZM628,211 627,215 629,216 635,216 635,215 633,215 630,211ZM645,210 645,211 638,217 638,219 637,220 635,220 635,222 644,230 648,230 649,229 654,228 655,227 655,225 654,224 651,226 649,226 647,224 647,222 646,221 645,222 640,222 638,220 640,217 644,216 644,215 648,212 647,210ZM654,203 653,205 656,207 656,204ZM632,201 628,201 625,203 625,205 629,203 631,203ZM619,190 619,193 620,194 620,196 621,196 623,194 623,192ZM602,182 601,184 603,184 605,186 606,190 609,190 608,186 605,183ZM585,182 583,182 581,184 581,186 583,190 585,188 583,186 583,185 586,183ZM557,174 557,176 560,178 560,175 559,174ZM584,169 588,172 591,172 592,171 592,169ZM475,153 475,155 476,156 475,161 477,166 477,171 478,172 479,182 481,183 482,182 484,182 490,178 493,183 496,183 497,184 494,189 495,190 499,188 503,190 505,190 506,191 506,197 504,199 504,204 503,205 509,210 515,210 517,208 527,209 529,208 529,205 530,204 532,204 533,206 544,216 544,218 541,220 539,223 542,225 546,223 548,225 547,227 545,228 545,230 544,231 544,233 545,234 551,234 552,233 554,235 557,235 562,237 560,233 555,232 554,231 554,229 553,228 554,227 554,223 553,221 558,217 560,214 560,211 563,208 565,208 567,210 564,214 564,215 566,216 568,216 569,217 572,215 575,215 576,216 580,215 590,219 598,216 603,216 604,213 606,211 607,207 605,204 607,201 610,200 609,199 605,199 603,200 593,195 586,195 584,194 582,197 573,198 568,203 566,203 563,201 563,197 562,196 562,194 560,192 558,192 556,194 554,193 554,188 555,186 554,185 552,185 551,184 551,182 546,178 545,178 545,182 543,184 539,184 538,185 534,185 529,180 523,180 522,181 520,181 518,179 522,173 521,172 521,169 518,165 518,161 514,161 508,158 504,162 502,162 499,158 497,158 496,157 494,157 491,159 489,159 486,157 484,159 482,157 484,155 484,152 477,151ZM596,207 598,207 599,208 598,214 597,215 595,214 596,212 595,208ZM587,201 589,199 591,200 590,202 588,202ZM534,191 535,190 537,190 540,194 538,195ZM522,186 524,188 522,191 520,189ZM550,185 551,187 548,190 546,187ZM497,159 499,161 499,164 495,168 493,166 492,161 494,159ZM522,158 524,162 526,162 529,160 535,160 536,161 537,160 536,158 533,158 532,157 531,154 528,150 527,150 528,151 527,154ZM514,148 514,151 516,154 518,155 518,151 516,148ZM662,142 660,142 659,143 653,143 652,144 645,144 646,153 648,158 652,158 654,155 654,151 653,150 656,147 660,149 661,146 663,144ZM534,137 533,139 534,140 536,140 537,138 536,137ZM603,139 604,140 609,140 610,137 607,137 606,136ZM544,135 543,136 543,138 544,139 546,139 546,136ZM603,130 602,132 604,134 605,133 605,131ZM609,127 608,130 611,132 612,131 610,127ZM615,125 616,127 620,127 621,128 623,127 619,125ZM540,150 541,152 541,158 545,162 547,167 546,168 546,171 548,171 554,166 555,166 557,169 565,169 566,168 569,171 569,173 566,177 563,179 564,181 566,181 568,178 571,178 573,181 575,181 576,180 572,177 572,175 573,174 573,172 576,169 577,165 579,163 582,163 588,159 592,162 592,165 595,166 597,168 598,171 603,170 606,173 607,178 609,180 613,180 616,183 616,181 614,179 614,177 616,175 620,176 626,184 627,183 629,184 628,186 626,186 626,192 632,191 635,193 635,190 634,190 632,187 634,184 633,180 631,180 627,183 624,179 625,172 627,170 629,170 630,171 632,171 633,170 632,168 627,167 626,166 627,160 626,159 626,155 623,151 623,148 624,147 623,146 620,146 619,147 618,146 616,146 612,149 610,148 607,150 592,150 591,149 587,150 586,149 587,147 593,146 595,143 594,142 592,142 586,145 584,145 582,143 586,141 586,140 590,136 591,136 592,132 591,131 586,131 582,129 576,120 574,120 572,122 570,121 568,122 563,121 563,123 566,125 573,133 573,135 574,136 574,142 572,144 570,144 569,143 569,140 565,142 563,142 562,141 562,140 566,137 566,133 564,131 564,129 563,129 559,134 559,138 556,142 549,147 545,147 543,146ZM560,161 562,162 562,164 561,165 559,165 558,164ZM572,160 572,159 575,157 579,157 581,159 580,160 576,160 575,161 573,161ZM608,155 613,151 616,153 619,153 623,156 623,158 621,160 616,156 614,156 612,158 610,158ZM619,150 620,149 621,151 620,152ZM578,151 579,149 581,149 582,150 580,152ZM557,147 558,145 560,146 558,148ZM543,115 543,118 544,118 544,115ZM554,99 552,98 550,99 551,100 551,103 549,105 551,104 555,104ZM785,93 782,94 780,96 780,98 779,99 780,101 779,99 780,98 782,99 784,99 785,98ZM544,86 543,87 543,89 544,89 545,87ZM681,76 678,79 678,81 683,85 682,86 685,86 688,89 691,90 693,88 690,85 690,78 686,78 683,76ZM783,75 785,78 785,80 781,84 781,86 784,90 790,87 790,84 791,83 792,84 793,89 795,90 800,90 802,95 805,95 806,94 808,96 812,96 815,99 823,99 826,96 830,96 833,98 835,97 835,92 830,90 828,88 826,88 824,91 819,91 817,90 816,91 811,91 808,94 805,94 804,93 804,90 806,86 805,85 800,85 799,84 797,84 796,83 795,76 793,76 789,78 786,75ZM781,74 780,73 778,73 774,75 774,78 779,75 781,75ZM377,73 376,71 372,74 370,74 367,72 366,73 366,76 370,79 373,77 375,77 377,75ZM357,69 355,68 350,69 349,70 349,73 348,74 346,74 346,76 348,76 349,77 349,79 350,80 352,80 353,79 353,75 354,73 357,71ZM673,51 670,53 672,54 673,53ZM685,59 685,62 687,64 687,67 685,68 684,70 686,72 689,70 692,74 692,77 694,77 696,80 706,89 708,89 709,88 709,87 706,85 706,83 707,82 714,83 717,85 717,82 720,80 722,80 724,82 724,84 721,87 719,87 719,89 724,91 731,91 733,88 733,84 735,82 738,82 739,81 739,79 741,78 745,84 750,85 752,87 754,87 757,90 755,92 755,95 757,97 759,97 761,95 761,92 762,91 765,91 766,93 772,98 774,97 775,93 777,92 778,90 778,88 777,89 773,89 770,84 768,84 767,83 764,86 763,85 763,82 766,77 765,75 768,71 768,69 767,68 765,69 762,73 759,73 758,72 758,70 763,68 763,66 756,67 752,63 750,63 748,61 744,61 743,59 738,55 738,54 738,58 737,59 735,59 733,57 733,55 730,55 726,52 723,54 720,52 712,52 711,51 707,51 703,53 702,55 698,56 696,54 696,48 695,47 693,47 692,48 692,51 694,55ZM706,73 707,74 707,79 706,80 701,81 700,80 700,77ZM701,68 703,71 699,73 698,72 698,70ZM722,54 723,56 717,60 716,58ZM436,43 434,48 442,54 439,57 435,58 435,60 432,64 426,63 424,65 425,72 430,74 431,81 435,84 436,87 442,87 443,88 449,89 452,91 457,90 458,89 462,92 462,94 464,96 466,96 467,97 468,100 470,102 470,105 471,105 473,102 476,102 478,104 476,106 476,111 475,112 472,112 471,111 467,112 467,113 471,116 471,118 469,120 468,119 467,120 468,122 467,124 468,130 467,131 472,134 470,138 475,143 478,141 481,141 488,146 490,146 490,143 488,143 485,141 485,139 489,136 490,136 496,143 500,141 505,142 507,138 512,139 513,137 518,137 519,138 523,138 525,139 531,135 531,133 527,131 524,128 527,124 527,120 528,119 532,119 534,120 537,125 543,129 543,127 539,124 540,118 537,115 536,112 534,112 532,115 530,115 528,111 528,109 529,108 529,103 530,102 535,103 535,100 533,97 529,99 526,102 521,103 518,107 513,106 513,108 514,109 508,114 506,114 503,111 498,109 493,110 491,113 491,115 493,117 493,123 494,124 493,125 490,124 487,119 487,115 483,112 483,110 482,109 484,107 484,103 487,97 486,88 488,86 492,85 495,81 499,81 502,77 503,71 502,71 498,66 495,66 495,68 493,71 496,71 498,72 499,74 492,81 488,81 485,76 485,70 483,66 482,67 474,66 471,69 468,67 466,67 465,68 463,66 465,64 471,64 471,62 470,61 466,61 464,59 462,54 461,53 459,53 457,49 459,46 465,46 466,41 438,41ZM488,130 489,128 491,129 489,131ZM499,128 500,127 502,129 500,130ZM503,117 504,118 504,120 502,121 501,119ZM517,114 520,117 524,117 526,119 526,121 524,122 522,127 519,127 516,124 517,122 513,119 513,117ZM481,71 482,69 484,70 482,72ZM451,53 452,54 449,56 447,59 444,57 446,54ZM413,41 414,47 417,51 420,51 421,50 421,46 423,43 426,43 426,41Z"/>
<path transform="translate(.5 .5)" fill="#a000c8" stroke="#a000c8" stroke-width="1" fill-rule="evenodd" d="M568,272 568,274 570,274 570,272ZM574,269 574,272 576,272 577,270 576,269ZM594,253 594,255 596,255 596,253ZM696,250 695,251 694,256 697,259 699,259 700,258 700,250ZM641,224 642,226 644,226 644,224ZM590,196 589,197 595,201 594,202 594,205 598,205 600,207 600,214 602,214 605,211 605,205 604,204 605,201 603,201 599,199 595,199 592,196ZM593,211 591,208 591,206 585,201 585,199 587,197 586,196 585,196 583,199 580,199 579,198 574,199 572,201 571,206 569,208 567,204 564,204 563,205 563,206 568,207 569,208 569,211 566,214 568,214 569,215 570,214 576,213 577,210 581,208 583,210 584,215 587,217 590,217 591,216 590,215ZM631,187 628,188 628,189 631,189ZM548,183 547,183 546,185 547,185ZM477,158 477,160 476,161 477,162 477,165 479,168 479,172 480,173 479,175 479,179 480,181 483,181 486,179 488,176 493,172 494,173 494,178 493,179 493,181 494,182 497,181 499,183 499,185 500,186 504,183 506,186 505,188 508,190 508,195 506,199 507,200 507,202 505,204 505,206 509,209 514,209 515,208 510,198 512,196 517,199 521,199 523,202 519,206 523,209 527,208 528,207 528,203 529,201 524,197 525,195 527,194 533,199 533,203 534,205 539,209 540,212 543,214 545,214 546,215 548,214 549,215 549,217 548,218 549,227 546,229 545,232 546,233 548,233 552,231 552,225 553,224 552,223 552,220 554,217 556,217 558,215 557,212 561,208 559,205 559,203 561,201 561,195 560,194 558,194 555,197 556,198 554,200 552,200 549,197 552,194 552,189 550,191 547,191 544,188 544,186 540,185 537,187 534,187 528,182 525,182 524,184 526,188 524,191 524,193 521,196 518,189 521,183 520,182 518,182 516,180 518,175 520,173 520,170 517,164 515,162 512,162 509,159 504,164 504,167 506,169 506,171 505,172 502,170 500,171 494,171 492,169 492,164 491,163 489,163 487,160 482,161 480,158 478,157ZM552,213 553,211 555,211 556,212 554,214ZM534,188 538,189 542,193 539,197 533,192 532,190ZM505,172 506,171 509,174 512,174 513,176 512,177 508,177 506,175ZM611,150 608,150 607,151 607,153 610,152ZM617,148 615,148 614,150 616,151 617,150ZM647,147 647,153 648,155 651,157 653,153 652,152 652,147 651,148ZM661,143 658,145 660,146 661,145ZM542,148 542,157 548,165 557,164 559,159 558,157 554,154 553,152 555,151 556,152 559,152 562,155 561,160 563,162 563,167 564,168 565,167 568,167 569,169 571,170 575,168 575,163 574,164 571,161 571,158 578,154 583,158 583,160 587,157 591,159 593,161 593,163 594,164 597,164 598,165 599,169 602,168 605,170 607,170 608,171 608,177 609,179 612,179 612,177 610,174 611,172 617,173 622,176 624,174 624,169 625,168 625,163 626,162 625,160 624,160 623,163 621,164 619,162 618,159 615,157 613,158 613,162 611,163 609,158 601,151 589,151 586,154 584,151 583,151 579,155 577,152 573,149 575,147 577,147 579,143 583,140 584,138 587,137 588,132 586,132 585,131 583,131 582,132 584,135 584,137 583,138 581,137 577,138 574,144 571,146 571,150 568,152 564,149 564,146 563,145 558,150 556,150 553,148 551,149ZM596,157 597,156 599,157 598,158ZM569,124 568,125 569,128 572,130 574,135 576,136 579,133 578,128 572,124ZM535,114 533,117 535,120 538,121 538,118ZM503,112 499,112 499,114 497,116 494,116 494,117 499,119 504,114ZM528,103 526,103 523,107 521,107 519,109 521,112 521,115 523,114 527,115 528,113 527,111ZM814,93 814,95 816,98 821,97 824,95 823,93 820,93 819,92 815,92ZM775,91 771,91 769,94 772,96ZM828,90 828,94 829,95 834,95 831,91ZM794,87 795,89 798,89 799,88 803,89 804,88 804,86 795,86ZM705,82 703,82 702,83 704,85 705,84ZM794,80 793,79 788,79 783,85 785,87 787,85 787,83 790,80 791,81 794,81ZM683,78 681,78 681,80 682,81 683,80ZM500,76 497,77 497,79 499,79 500,78ZM693,73 693,76 698,79 699,76 697,74ZM355,70 351,70 351,74 352,74ZM498,68 496,68 496,70 497,70ZM425,65 426,70 427,71 430,71 432,73 432,78 437,82 437,85 442,85 452,90 459,88 463,91 464,94 466,95 470,100 474,100 475,101 477,101 479,103 479,105 477,107 477,111 475,114 473,114 471,112 469,112 469,113 472,115 472,120 469,123 469,131 473,131 474,132 474,135 472,138 473,139 483,141 483,136 482,135 482,132 483,131 485,131 487,135 491,135 493,137 496,137 498,141 500,140 504,140 507,135 510,137 512,135 515,135 519,137 524,137 527,135 527,132 526,132 522,128 519,130 513,130 511,128 514,126 514,122 512,120 512,117 514,115 516,110 510,113 505,117 506,123 504,125 500,122 496,122 496,125 501,124 503,128 505,129 506,128 510,129 511,131 508,134 504,132 499,132 497,133 494,131 487,133 485,131 487,127 486,116 485,116 484,120 481,123 479,122 479,117 482,115 481,108 483,106 483,103 486,97 486,93 484,89 489,84 491,84 492,83 491,82 490,83 486,83 485,82 486,81 486,78 484,76 484,73 480,74 479,73 480,69 478,67 475,67 471,72 470,72 468,69 464,69 461,67 461,65 458,62 458,61 461,59 461,57 460,56 456,59 454,57 451,57 447,61 444,61 442,56 438,59 438,61 437,62 435,62 432,65 428,65 427,64ZM472,123 474,122 475,124 473,125ZM451,63 454,65 452,67 449,65ZM456,59 457,61 455,62 454,61ZM688,60 689,61 689,68 696,70 699,67 702,67 709,75 709,76 712,78 712,81 714,82 717,80 717,75 718,74 719,75 724,74 726,76 725,78 725,85 722,89 724,89 726,87 730,89 732,86 729,82 730,81 732,82 737,81 738,78 740,76 744,77 747,80 746,81 746,83 748,84 752,83 758,89 758,90 760,89 759,86 757,84 753,84 751,80 755,77 756,78 758,78 760,81 762,81 763,79 762,77 760,76 755,77 753,75 753,73 757,69 755,69 752,71 750,74 748,74 747,73 751,67 751,65 747,62 745,62 744,63 739,63 737,61 735,61 732,59 728,62 725,62 724,61 724,59 725,58 720,60 718,62 716,62 714,59 714,57 718,55 718,54 717,53 712,53 711,52 706,52 701,57 690,58ZM723,69 723,70 719,72 717,75 715,74 714,75 711,75 710,74 713,70 718,69 720,66ZM704,59 707,61 705,63 702,61ZM435,48 438,50 442,51 443,53 445,53 450,49 455,50 460,44 463,45 464,44 464,41 439,41 437,43ZM414,41 419,50 420,49 420,46 418,46 417,45 422,41Z"/>
<path transform="translate(.5 .5)" fill="#f00082" stroke="#f00082" stroke-width="1" fill-rule="evenodd" d="M699,255 697,255 697,257 698,258 699,257ZM527,207 527,205 526,204 521,206 523,208ZM506,205 508,208 513,208 513,206 510,204 507,204ZM597,200 596,204 600,204 601,205 601,207 602,208 601,209 601,213 602,213 604,210 603,203 601,201ZM575,200 574,201 574,204 576,207 581,207 583,208 586,211 587,214 588,214 590,211 590,207 589,205 584,203 580,200ZM526,191 527,191 529,194 534,198 534,203 536,205 537,205 540,201 542,201 543,202 543,204 541,205 541,211 542,212 546,213 554,209 556,210 559,208 558,207 558,202 560,199 560,196 558,196 557,197 557,200 555,202 553,202 544,194 540,198 538,198 533,194 532,191 530,190 527,190ZM539,187 539,188 540,188 544,192 544,190 541,187ZM481,176 480,177 481,180 482,178ZM496,173 496,176 500,183 505,182 509,189 511,189 511,184 513,182 516,187 518,185 518,183 516,183 510,178 507,178 502,172 500,173ZM506,165 509,172 511,172 511,170 512,169 518,172 518,168 515,164 512,163 509,166 507,166ZM478,160 478,164 479,166 481,166 484,168 484,172 485,174 487,175 491,172 491,165 490,164 489,165 487,165 485,163 482,163ZM615,159 614,160 615,161 615,163 617,163 618,161ZM563,158 562,159 565,163 565,166 567,163 567,160 565,158ZM589,153 590,156 594,160 594,162 595,163 598,163 601,167 607,167 609,166 611,168 611,170 615,170 615,167 613,167 606,163 606,161 608,160 607,159 605,159 601,154 600,154 601,155 601,157 599,159 595,159 593,157 596,154 594,152 590,152ZM574,152 572,154 573,155 575,154ZM544,150 543,151 543,157 546,160 547,163 550,163 551,162 556,163 557,162 556,158 552,154 548,154 547,153 547,151 546,150ZM562,148 561,150 563,153ZM578,140 576,141 575,145 577,145ZM497,134 497,136 499,139 504,138 504,134 502,133ZM523,135 523,133 521,131 520,132 513,132 513,133 519,136 522,136ZM575,129 574,130 574,133 576,134 577,133 577,131 576,129ZM513,113 507,116 506,118 508,121 508,123 506,126 507,127 510,127 513,124 511,121 511,117ZM479,112 478,112 477,114 474,116 474,120 476,120 477,121 477,125 476,126 476,134 475,135 475,138 476,139 481,138 481,136 480,135 481,134 481,130 485,127 485,123 483,123 479,125 477,122 477,118 480,114ZM524,108 523,110 525,111 526,109ZM817,93 816,94 816,96 819,96 819,94ZM726,83 726,86 730,87 730,85 728,83ZM426,67 427,69 433,70 434,71 433,76 435,76 437,80 440,82 445,83 452,89 457,87 461,88 471,99 478,100 481,104 482,104 482,101 485,97 485,94 482,91 485,85 482,82 485,78 482,75 478,73 478,71 479,70 478,68 475,68 474,69 474,71 472,73 470,73 467,70 464,70 461,68 457,68 456,67 454,68 454,71 452,72 448,66 448,63 440,63 439,64 435,63 430,67 428,66ZM690,65 691,67 696,68 695,62 692,63ZM722,64 724,69 727,71 727,75 728,77 731,80 736,80 737,77 739,75 736,71 738,67 742,70 743,73 746,76 745,75 746,69 744,68 746,66 748,66 747,64 742,64 739,66 737,63 734,61 731,61 728,64ZM732,74 733,73 735,73 736,75 734,77ZM728,66 730,65 731,67 729,68ZM706,53 705,54 705,56 708,59 708,62 706,64 701,63 700,66 704,67 708,72 710,72 710,71 713,69 714,67 713,66 711,55 709,53ZM436,48 441,50 444,50 445,51 447,50 446,45 448,43 450,43 453,47 455,47 454,41 439,41 439,43 437,45ZM416,42 420,42 421,41 416,41Z"/>
<path transform="translate(.5 .5)" fill="#ff6464" stroke="#ff6464" stroke-width="1" fill-rule="evenodd" d="M546,206 545,208 547,209 547,207ZM580,205 580,206 584,207 586,209 588,209 589,208 588,205 586,205 585,204 581,204ZM541,198 541,200 543,200 545,203 547,203 551,209 556,208 556,206 554,206 552,203 545,197 542,197ZM507,179 508,185 510,187 509,183 511,180 510,179ZM500,174 499,179 500,181 502,181 505,178 502,174ZM512,165 512,167 516,169 516,166 515,165ZM602,159 600,161 600,163 603,165 603,160ZM552,155 550,155 547,158 547,161 548,162 553,160 553,156ZM500,134 499,135 499,137 502,137 503,135 502,134ZM479,130 478,130 478,134 476,136 477,138 479,136 479,133 480,132ZM511,123 510,123 508,126 510,126 511,125ZM511,115 507,118 509,119ZM724,65 724,67 726,68 726,65ZM433,66 433,68 436,68 437,69 437,75 439,80 441,81 445,81 451,87 458,86 463,88 471,98 474,98 475,99 482,99 483,98 483,96 480,94 480,91 482,88 481,81 483,79 483,77 479,75 476,72 477,71 477,69 476,69 476,72 474,74 470,74 467,71 464,71 461,69 455,69 455,72 454,73 450,73 448,71 447,64 440,64 439,65 435,64ZM711,68 711,64 710,63 707,65 702,65 705,66 708,70ZM732,62 731,63 733,65 734,68 735,68 736,67 736,65 734,62ZM438,47 439,48 444,48 445,47 445,44 448,41 449,42 451,41 440,41 440,43Z"/>
<path transform="translate(.5 .5)" fill="#fa3c3c" stroke="#fa3c3c" stroke-width="1" fill-rule="evenodd" d="M583,205 583,206 587,208 588,207ZM551,156 549,158 550,160 552,159 552,157ZM439,67 439,78 441,80 445,78 449,82 449,83 452,85 462,85 463,86 466,86 469,89 467,90 467,91 471,96 476,94 480,88 480,76 478,76 477,75 469,75 465,72 462,72 460,74 447,74 442,69 442,67 443,66 445,68 447,68 446,65 443,65ZM445,41 441,41 442,43 441,46 442,46 442,44 444,43Z"/><polygon fill="#f0e6dc" points="398.0,320.0 406.0,319.0 420.0,321.0 423.0,323.0 414.0,325.0 402.0,322.6"/>
<polygon fill="#f0e6dc" points="356.0,331.0 372.0,327.0 392.0,327.4 412.0,331.0 428.0,337.0 424.0,339.4 406.0,336.0 390.0,332.6 374.0,333.0 366.0,339.0 356.0,346.0 354.0,341.0 360.0,335.0"/>
<polygon fill="#f0e6dc" points="346.0,333.0 352.0,334.0 355.0,343.0 354.0,347.0 346.0,347.0"/>
<polygon fill="#f0e6dc" points="447.0,327.0 450.0,326.0 455.6,331.0 452.0,332.0"/>
<g id="speck"><polygon points="467,123 470,120 473,123 470,126" fill="#ff6464" stroke="#f00082" stroke-width="1.6"/><polygon points="477,130 480,127 483,130 480,133" fill="#ff6464" stroke="#f00082" stroke-width="1.6"/><polygon points="492,130 496,126 500,130 496,134" fill="#ff6464" stroke="#f00082" stroke-width="1.6"/><polygon points="520,139 524,135 528,139 524,143" fill="#ff6464" stroke="#f00082" stroke-width="1.6"/><polygon points="554,141 558,137 562,141 558,145" fill="#ff6464" stroke="#f00082" stroke-width="1.6"/><polygon points="549,157 553,153 557,157 553,161" fill="#ff6464" stroke="#f00082" stroke-width="1.6"/><polygon points="508,167 512,163 516,167 512,171" fill="#ff6464" stroke="#f00082" stroke-width="1.6"/><polygon points="475,162 478,159 481,162 478,165" fill="#ff6464" stroke="#f00082" stroke-width="1.6"/><polygon points="485,163 488,160 491,163 488,166" fill="#ff6464" stroke="#f00082" stroke-width="1.6"/><polygon points="495,174 498,171 501,174 498,177" fill="#ff6464" stroke="#f00082" stroke-width="1.6"/><polygon points="487,180 490,177 493,180 490,183" fill="#ff6464" stroke="#f00082" stroke-width="1.6"/><polygon points="493,188 496,185 499,188 496,191" fill="#ff6464" stroke="#f00082" stroke-width="1.6"/><polygon points="509,182 512,179 515,182 512,185" fill="#ff6464" stroke="#f00082" stroke-width="1.6"/><polygon points="502,191 505,188 508,191 505,194" fill="#ff6464" stroke="#f00082" stroke-width="1.6"/><polygon points="511.5,193 514,190.5 516.5,193 514,195.5" fill="#ff6464" stroke="#f00082" stroke-width="1.6"/><polygon points="525,197 528,194 531,197 528,200" fill="#ff6464" stroke="#f00082" stroke-width="1.6"/><polygon points="517,201 520,198 523,201 520,204" fill="#ff6464" stroke="#f00082" stroke-width="1.6"/><polygon points="540,208 544,204 548,208 544,212" fill="#ff6464" stroke="#f00082" stroke-width="1.6"/><polygon points="547,220 550,217 553,220 550,223" fill="#ff6464" stroke="#f00082" stroke-width="1.6"/><polygon points="573,208 578,203 583,208 578,213" fill="#ff6464" stroke="#f00082" stroke-width="1.6"/><polygon points="587,202 590,199 593,202 590,205" fill="#ff6464" stroke="#f00082" stroke-width="1.6"/><polygon points="569,171 572,168 575,171 572,174" fill="#ff6464" stroke="#f00082" stroke-width="1.6"/><polygon points="539,193 542,190 545,193 542,196" fill="#ff6464" stroke="#f00082" stroke-width="1.6"/><polygon points="597,162 600,159 603,162 600,165" fill="#ff6464" stroke="#f00082" stroke-width="1.6"/><polygon points="610,167 614,163 618,167 614,171" fill="#ff6464" stroke="#f00082" stroke-width="1.6"/><polygon points="588,201 591,198 594,201 591,204" fill="#ff6464" stroke="#f00082" stroke-width="1.6"/><polygon points="544,214 547,211 550,214 547,217" fill="#ff6464" stroke="#f00082" stroke-width="1.6"/><polygon points="552,224 555,221 558,224 555,227" fill="#ff6464" stroke="#f00082" stroke-width="1.6"/><polygon points="598,210 601,207 604,210 601,213" fill="#ff6464" stroke="#f00082" stroke-width="1.6"/><polygon points="574,276 578,272 582,276 578,280" fill="#ff6464" stroke="#f00082" stroke-width="1.6"/><polygon points="555,240 558,237 561,240 558,243" fill="#ff6464" stroke="#f00082" stroke-width="1.6"/><polygon points="551.5,94 554,91.5 556.5,94 554,96.5" fill="#ff6464" stroke="#f00082" stroke-width="1.6"/><polygon points="602.5,90 605,87.5 607.5,90 605,92.5" fill="#ff6464" stroke="#f00082" stroke-width="1.6"/><polygon points="518,140 521,137 524,140 521,143" fill="#ff6464" stroke="#f00082" stroke-width="1.6"/><polygon points="583,153 586,150 589,153 586,156" fill="#ff6464" stroke="#f00082" stroke-width="1.6"/><polygon points="618.5,131 621,128.5 623.5,131 621,133.5" fill="#ff6464" stroke="#f00082" stroke-width="1.6"/><polygon points="652,144 655,141 658,144 655,147" fill="#ff6464" stroke="#f00082" stroke-width="1.6"/><polygon points="573.5,125 576,122.5 578.5,125 576,127.5" fill="#ff6464" stroke="#f00082" stroke-width="1.6"/></g></g>
<g id="map2" shape-rendering="crispEdges"><rect x="346" y="366" width="493" height="310" fill="#f0e6dc"/>
<path transform="translate(.5 .5)" fill="#e6dc32" stroke="#e6dc32" stroke-width="1" fill-rule="evenodd" d="M346,366 346,429 410,429 411,428 423,428 426,431 426,435 424,437 422,437 421,438 412,437 411,438 409,438 406,441 406,444 415,449 419,454 423,456 429,456 431,455 437,447 445,443 446,441 446,437 449,433 454,434 460,437 463,442 463,452 464,453 463,475 466,483 473,491 473,517 474,518 474,527 475,528 475,532 478,536 486,539 500,539 501,540 505,540 512,546 516,548 527,550 533,553 538,559 539,564 540,565 534,577 534,583 539,593 537,604 535,609 527,617 526,617 524,621 524,628 523,629 523,631 520,634 517,635 514,639 514,642 517,648 517,651 514,653 504,653 503,654 499,654 492,657 489,657 486,654 485,650 481,646 480,646 475,641 473,637 471,636 469,636 468,635 465,635 464,636 446,636 445,637 439,636 436,633 435,630 426,623 425,619 426,617 430,614 442,615 445,611 445,530 450,525 453,524 455,522 455,520 456,519 456,501 455,500 455,498 452,496 440,496 438,495 435,491 435,480 432,476 420,476 415,471 412,466 400,466 395,461 395,460 390,456 346,456 346,675 838,675 838,456 807,456 806,457 804,457 803,456 800,456 796,452 793,447 793,444 796,442 838,442 838,394 835,394 834,393 799,393 798,392 758,392 750,389 747,386 744,380 738,375 735,375 734,374 724,374 722,375 721,374 716,374 715,373 704,374 703,373 701,373 698,370 697,366ZM698,456 702,456 707,458 714,458 715,459 717,459 718,458 731,458 732,457 736,457 737,456 743,456 744,457 752,458 757,462 756,466 753,468 745,468 744,467 740,467 736,470 736,477 738,482 737,501 738,503 742,506 747,505 748,504 752,504 755,507 757,513 763,516 766,520 766,524 763,527 755,532 751,532 749,531 743,524 735,520 729,514 726,509 726,502 727,500 726,499 725,493 723,490 723,479 721,475 712,469 702,466 697,460 697,457ZM688,444 692,445 695,449 695,454 694,455 690,454 686,450 686,446ZM436,414 439,416 437,419 435,419 434,418 434,416ZM357,388 358,386 362,383 370,383 374,386 374,389 370,392 361,392 359,391Z"/>
<path transform="translate(.5 .5)" fill="#a0e632" stroke="#a0e632" stroke-width="1" fill-rule="evenodd" d="M346,506 346,575 381,575 389,566 401,566 403,565 405,562 405,559 403,556 401,555 389,555 385,551 385,548 384,547 384,545 385,544 385,537 386,536 385,530 381,526 380,526 361,506ZM807,488 806,492 808,495 810,496 813,496 814,495 822,495 825,498 828,504 830,505 838,505 838,476 821,476 819,477 814,483 810,485ZM746,475 744,479 744,491 746,496 751,496 754,494 756,490 756,481 755,480 755,478 752,475ZM346,366 346,426 353,426 354,427 375,427 376,428 396,428 397,427 407,427 408,426 413,426 414,425 423,424 427,421 428,417 431,413 435,411 440,411 443,415 443,421 444,423 454,431 459,433 464,438 464,440 465,441 465,445 466,446 466,449 469,457 469,461 467,466 467,476 468,477 468,479 473,485 476,491 476,502 475,503 475,506 476,507 476,515 477,516 478,527 480,532 485,536 507,539 517,546 527,548 528,549 532,549 536,551 541,557 544,565 543,572 539,577 539,583 543,590 544,600 543,601 543,604 540,609 529,620 527,625 526,632 519,640 519,643 524,651 524,655 521,658 517,658 512,656 507,656 499,659 489,666 483,667 482,666 479,666 476,663 474,658 471,656 463,656 458,658 452,658 448,655 443,647 441,646 435,646 434,647 417,647 416,648 414,648 409,646 405,640 401,637 392,637 391,638 387,637 384,633 383,628 373,618 371,617 361,617 356,613 353,607 346,605 346,675 665,675 665,673 664,672 664,666 663,664 665,659 671,653 690,653 695,658 695,660 696,661 695,663 686,670 685,675 838,675 838,556 837,555 830,555 827,557 826,560 827,562 836,571 836,576 834,578 832,578 831,579 825,578 818,572 816,568 813,565 811,564 802,564 800,563 796,559 794,549 790,546 782,545 773,535 769,533 758,533 757,534 752,534 746,531 740,525 732,521 723,512 721,508 721,506 722,505 722,498 720,496 717,489 717,487 718,486 718,480 717,478 713,474 700,469 693,462 693,461 683,452 680,447 680,444 683,441 690,441 691,442 693,442 698,447 700,452 711,456 722,456 723,455 729,455 737,452 742,452 750,455 769,455 770,454 772,454 775,451 777,446 781,442 787,439 791,439 792,438 797,438 798,439 838,439 838,398 831,397 830,396 809,397 808,396 803,396 802,395 790,395 789,394 787,394 786,395 774,395 773,394 758,394 757,393 753,393 746,390 737,381 733,379 719,379 714,377 702,376 697,373 695,369 695,366ZM560,618 563,619 566,622 566,626 563,629 559,629 556,626 556,621ZM354,388 354,386 360,381 371,381 372,382 374,382 378,386 377,389 374,392 367,393 366,394 359,393 357,392Z"/>
<path transform="translate(.5 .5)" fill="#00dc00" stroke="#00dc00" stroke-width="1" fill-rule="evenodd" d="M346,627 346,675 465,675 465,668 464,666 462,665 450,665 448,664 445,660 438,654 434,654 433,655 409,655 407,654 404,651 403,648 397,643 389,643 388,644 380,644 379,643 377,643 374,640 374,636 376,631 371,625 366,624 365,625 362,625 357,627ZM346,366 346,425 366,425 367,426 403,426 404,425 409,425 410,424 413,424 414,423 417,423 422,421 424,419 425,416 432,410 435,410 436,409 440,409 442,410 445,414 447,421 453,427 462,432 465,435 468,448 471,454 473,456 474,460 470,467 470,476 476,485 478,490 478,513 479,514 480,524 481,525 482,530 488,535 508,538 517,544 519,544 522,546 536,548 540,551 546,562 546,565 547,566 547,573 545,578 545,585 546,586 547,596 548,597 548,602 549,603 548,604 547,609 538,615 531,623 528,636 525,640 525,643 528,648 528,651 529,652 528,660 525,663 519,663 514,660 511,660 510,659 506,660 499,666 497,670 496,675 605,675 605,670 600,665 599,665 584,650 583,648 583,643 584,642 584,640 587,637 592,637 594,638 603,646 607,646 609,645 617,638 619,638 620,637 621,638 623,638 628,643 628,647 624,653 617,657 616,662 625,669 626,671 626,675 656,675 656,666 655,664 656,663 657,658 668,648 682,648 683,647 692,647 694,648 698,652 698,653 704,656 705,655 711,655 715,658 716,661 720,665 731,665 733,666 736,670 736,675 838,675 838,584 823,581 820,579 811,569 806,567 801,567 796,565 793,562 790,555 786,551 779,548 770,538 748,534 741,528 730,522 724,516 723,516 717,509 717,507 716,506 716,500 713,495 713,485 714,484 713,480 711,478 706,476 703,476 695,471 692,468 690,464 679,454 678,454 674,449 676,442 678,440 683,439 684,438 686,438 687,439 692,439 696,441 705,452 717,454 718,453 726,453 727,452 730,452 733,450 735,450 739,448 752,452 753,451 755,451 761,443 763,443 767,445 770,445 776,440 781,438 784,438 788,436 838,436 838,402 830,399 810,400 809,399 805,399 800,397 793,397 792,396 780,396 779,397 777,397 776,396 762,396 761,395 754,395 753,394 747,393 737,388 735,386 728,383 720,383 710,379 701,378 695,374 693,370 693,366 496,366 496,370 492,373 488,371 487,366ZM552,619 557,615 563,615 567,617 570,622 570,627 569,629 565,632 559,632 557,631 552,625ZM485,457 488,453 490,452 494,452 503,459 503,463 499,466 494,466 490,464 485,459ZM570,384 572,385 572,387 571,388 569,388 568,387ZM539,383 541,383 543,385 543,387 541,389 537,389 536,388 536,386ZM350,388 350,385 355,380 359,378 370,378 371,379 374,379 380,382 383,386 382,388 377,392 372,394 367,394 366,395 358,394 354,392Z"/>
<path transform="translate(.5 .5)" fill="#00d28c" stroke="#00d28c" stroke-width="1" fill-rule="evenodd" d="M506,667 505,675 525,675 524,670 515,665 509,664ZM346,635 346,655 358,654 363,656 366,660 366,675 395,675 395,659 396,658 396,651 392,648 374,648 370,646 367,643 365,638 362,636 360,636 359,635ZM536,622 534,627 534,632 537,637 537,644 535,647 535,650 534,651 534,659 535,660 535,663 537,668 537,675 594,675 594,671 587,660 573,648 574,639 572,636 570,635 562,635 554,632 549,627 548,621 547,619 544,617 539,619ZM346,391 346,423 359,423 360,424 371,424 372,425 400,425 401,424 406,424 407,423 414,422 420,419 427,411 431,409 433,409 434,408 442,408 446,412 449,420 453,424 461,429 466,430 468,432 468,441 469,442 469,445 471,449 477,455 481,455 490,449 496,449 498,451 508,456 509,460 507,464 503,468 499,470 493,470 484,465 481,465 480,464 475,466 473,469 473,476 477,482 480,489 480,513 481,514 481,518 482,519 482,524 483,525 483,527 485,531 490,534 509,537 521,544 523,544 524,545 529,545 530,546 539,546 541,548 549,564 549,568 550,569 549,590 550,591 551,596 555,601 555,610 558,612 567,612 572,617 572,619 576,625 583,628 589,632 599,634 603,637 605,637 606,638 611,636 615,633 622,633 629,637 639,637 646,643 652,646 659,646 660,645 664,645 665,644 683,644 688,642 697,642 698,643 702,643 704,642 713,632 716,632 721,634 723,634 724,633 731,633 735,636 738,643 740,644 749,654 755,657 756,659 756,664 757,665 757,675 838,675 838,591 834,587 830,585 823,584 819,582 809,572 804,570 797,569 793,567 785,559 778,554 773,549 769,543 765,542 759,538 757,538 753,536 750,536 744,533 738,528 728,523 724,519 718,515 706,502 705,500 705,496 706,495 706,491 707,490 706,486 701,486 700,485 698,485 694,481 692,477 688,474 677,462 670,458 668,455 668,449 670,444 674,439 678,437 692,437 693,438 695,438 699,440 703,445 704,448 709,451 724,451 738,445 746,445 747,446 750,446 755,440 760,438 764,438 765,437 782,436 783,435 787,435 788,434 838,434 838,407 831,403 827,403 826,402 825,403 812,403 811,402 807,402 806,401 803,401 799,399 794,399 793,398 766,398 765,397 751,396 735,390 732,390 725,387 722,387 721,386 713,384 710,382 700,380 692,373 691,371 691,366 499,366 499,373 497,375 495,375 494,376 488,375 485,372 484,366 366,366 366,371 367,373 371,375 382,376 383,377 384,376 389,376 390,375 394,375 395,374 406,374 409,376 409,379 406,382 399,384 392,389 382,391 372,395 362,396 361,395 357,395 351,392ZM612,576 615,573 617,573 618,572 623,572 624,573 627,573 630,577 628,580 624,582 617,582 613,579ZM579,544 583,544 588,551 588,562 589,564 595,569 597,573 596,580 598,585 598,590 595,594 588,594 582,586 575,586 572,582 572,571 576,564 576,548ZM670,514 674,518 674,521 672,524 666,526 663,523 663,520 664,519 664,517 667,514ZM650,443 652,443 655,447 654,452 652,454 650,454 647,450 647,445ZM569,378 571,378 576,384 576,388 575,390 571,392 566,391 564,388 564,384ZM548,380 548,385 544,390 540,392 536,392 531,388 532,383 536,379 539,377 544,377Z"/>
<path transform="translate(.5 .5)" fill="#00c8c8" stroke="#00c8c8" stroke-width="1" fill-rule="evenodd" d="M765,671 765,675 785,675 785,669 784,667 782,666 772,666 771,667 768,667ZM544,636 544,644 546,646 555,650 557,653 555,660 546,670 546,675 588,675 588,670 584,662 577,656 573,654 571,654 566,650 567,640 565,638 552,634 551,633 546,633ZM346,394 346,421 355,421 356,422 364,422 365,423 373,423 374,424 398,424 399,423 408,422 416,419 425,410 427,409 429,409 433,407 443,407 447,410 447,412 450,418 458,425 460,426 472,425 474,427 470,437 470,442 471,443 471,445 475,450 477,451 482,451 489,447 497,446 501,444 504,444 507,446 511,446 512,445 519,444 525,448 528,451 528,454 526,456 523,456 516,459 513,462 511,466 506,471 502,473 500,473 499,474 491,474 483,469 479,469 477,470 476,474 482,487 482,514 483,515 483,520 484,521 484,524 486,529 491,533 498,534 499,535 509,536 525,544 534,544 535,543 541,543 550,560 550,562 552,566 552,590 556,595 558,596 563,596 566,594 568,590 568,587 569,586 569,568 572,561 572,547 574,542 579,538 583,538 585,539 595,549 594,559 595,561 600,565 610,565 615,567 623,567 625,566 626,564 625,560 615,551 615,546 618,543 623,543 628,546 630,546 636,549 641,554 641,555 645,558 655,558 656,557 660,557 662,558 665,561 665,564 661,568 651,574 646,575 640,578 638,580 636,580 633,582 631,582 627,584 620,584 619,585 617,584 607,584 604,588 604,591 602,595 598,599 589,599 576,606 574,610 576,618 580,622 586,625 588,627 590,627 591,628 598,627 606,618 608,617 612,617 614,618 619,623 619,624 627,631 632,633 638,633 649,641 651,641 652,642 659,642 660,641 675,641 676,642 678,642 679,641 683,641 688,639 698,639 699,638 702,638 707,633 710,626 714,624 722,628 732,628 737,630 741,634 743,638 753,646 761,647 770,654 774,653 776,650 781,646 789,647 796,650 800,653 807,661 807,667 806,668 806,674 805,675 838,675 838,603 833,599 833,592 832,590 829,588 820,586 806,575 802,573 791,570 785,566 778,563 769,556 764,546 758,540 755,538 747,536 738,531 736,529 727,525 720,519 712,515 706,510 700,507 679,507 676,509 676,511 679,518 679,521 677,525 673,528 670,529 662,537 661,537 658,533 655,513 649,505 649,499 654,495 667,496 668,495 678,495 683,493 686,489 686,487 687,486 687,483 685,479 684,479 678,473 675,467 671,463 668,462 663,458 664,448 662,446 659,448 659,450 658,451 658,457 655,459 650,459 646,455 644,448 642,445 638,443 633,438 626,436 623,433 622,427 620,425 609,422 597,410 595,406 589,403 587,400 587,394 590,392 596,397 598,402 600,403 613,403 614,404 618,404 619,405 630,405 631,406 636,407 639,411 639,419 637,423 637,431 639,433 645,436 647,436 648,437 658,437 659,436 665,436 666,435 691,435 692,436 695,436 700,438 704,442 705,445 708,448 710,448 711,449 721,449 722,448 725,448 735,443 737,443 741,441 744,441 752,437 758,436 768,432 773,432 774,433 781,434 782,433 786,433 790,431 838,431 838,412 835,411 833,409 828,407 820,408 815,406 811,406 810,405 803,404 800,402 794,401 793,400 768,400 767,399 762,399 761,398 749,397 748,396 745,396 737,393 732,393 731,392 724,391 723,390 715,388 712,386 701,383 694,379 691,376 689,372 688,366 546,366 546,368 548,372 553,378 553,383 546,391 542,393 538,393 537,394 531,393 527,391 524,388 519,387 515,383 515,366 503,366 503,370 504,371 505,376 502,379 496,379 495,378 485,377 482,374 482,366 426,366 425,367 425,369 417,375 409,384 405,386 400,387 394,391 387,392 386,393 381,393 380,394 373,395 372,396 355,396 351,394ZM771,595 773,593 775,593 776,592 786,592 789,594 789,598 784,603 779,603 773,600 771,598ZM592,495 597,495 599,497 599,500 596,504 591,504 589,502 589,498ZM520,475 522,475 525,477 527,481 527,489 526,491 522,494 516,494 514,493 512,490 512,484 515,478ZM510,422 514,423 519,430 519,435 517,437 513,437 509,433 509,431 508,430 508,424ZM568,374 572,374 576,378 579,384 579,390 575,393 566,394 564,393 561,389 561,383 563,379ZM447,375 450,373 456,374 458,376 458,380 454,383 451,383 448,381 447,379Z"/>
<path transform="translate(.5 .5)" fill="#00a0ff" stroke="#00a0ff" stroke-width="1" fill-rule="evenodd" d="M554,670 554,675 585,675 584,668 580,662 576,659 569,656 563,656 557,663 557,665ZM549,638 549,642 555,646 559,647 563,644 563,641 558,638 556,638 555,637 550,637ZM346,396 346,419 353,419 354,420 367,421 368,422 375,422 376,423 396,423 397,422 402,422 403,421 409,420 415,417 422,410 426,408 432,407 433,406 446,406 449,411 449,413 451,417 459,423 466,423 470,421 477,421 479,424 478,425 478,428 474,434 472,439 473,444 477,448 483,448 496,443 502,437 503,437 506,433 506,427 505,426 506,422 510,419 515,420 522,429 522,431 523,432 523,441 539,456 542,457 548,463 556,467 557,469 557,482 556,483 556,488 554,493 548,498 531,497 526,499 517,499 512,497 509,494 509,492 508,491 508,485 505,479 490,479 489,478 485,478 484,479 484,516 485,517 486,525 488,529 492,532 499,533 500,534 510,535 523,542 530,543 537,540 539,538 541,538 544,541 547,551 553,561 554,567 555,568 555,572 554,573 554,586 555,587 555,589 559,592 563,591 566,587 566,584 567,583 566,566 568,562 569,546 571,541 578,535 580,535 581,534 592,534 593,535 611,534 617,537 625,539 634,544 638,545 643,550 643,551 648,555 654,555 658,553 662,553 664,554 670,562 670,567 667,571 656,578 652,578 637,584 629,585 628,586 619,586 618,587 613,587 611,588 608,591 606,598 602,604 589,603 583,606 579,610 579,615 580,617 585,621 592,623 596,621 604,613 606,612 611,612 618,615 620,617 626,620 633,628 640,631 645,636 650,639 653,639 654,640 656,640 657,639 681,639 682,638 685,638 690,636 699,636 701,635 704,632 706,628 706,622 707,621 708,616 709,615 712,615 721,623 728,624 729,625 733,625 741,628 749,637 754,639 758,642 764,643 765,644 771,644 774,642 783,642 787,644 795,645 796,646 801,647 806,650 813,657 815,661 819,664 824,664 825,665 838,664 838,629 832,629 828,627 825,623 825,618 826,617 831,616 832,615 838,616 838,607 833,607 828,603 827,601 827,599 828,598 828,593 826,591 822,590 806,582 801,577 794,573 785,571 767,562 763,558 763,556 762,555 762,550 759,544 754,539 752,539 749,537 744,536 737,532 735,532 724,526 716,520 711,519 708,517 706,517 703,515 700,515 699,514 691,514 690,515 686,515 684,518 684,525 681,528 672,532 663,543 661,544 656,540 656,538 655,537 655,531 653,526 651,524 646,522 643,519 647,513 646,499 647,498 647,496 654,490 654,485 653,484 654,481 657,479 666,478 671,476 672,474 672,470 671,468 668,465 664,463 659,463 658,462 657,463 649,463 647,462 643,457 643,454 641,449 638,447 636,447 632,445 629,445 628,444 619,444 618,443 616,443 614,441 614,439 618,433 617,428 614,426 610,426 605,424 603,421 585,404 584,399 581,394 570,395 569,396 563,396 556,388 554,388 543,394 523,396 514,392 507,383 499,382 494,380 486,380 478,385 471,385 467,383 461,383 456,386 450,386 445,381 443,376 438,371 434,369 430,369 422,374 410,386 391,394 384,394 383,395 378,395 377,396 373,396 372,397 353,397 352,396ZM682,607 684,605 687,605 688,606 693,607 696,610 693,613 686,613 682,609ZM762,593 766,589 771,587 795,589 798,592 797,601 799,603 807,607 814,609 816,611 816,613 814,615 811,615 810,616 809,615 804,615 795,611 789,607 778,606 775,604 767,602 762,598ZM711,567 715,567 718,571 718,579 717,580 717,583 714,587 709,586 704,581 704,576 705,575 705,573 706,571ZM606,486 607,487 607,496 603,504 597,508 593,508 591,507 587,503 587,501 586,500 587,495 590,492 595,490 598,487 602,485ZM574,366 574,369 583,387 585,388 590,388 594,390 599,395 599,396 603,399 609,399 610,398 615,398 616,397 618,397 626,388 634,388 638,391 638,397 637,399 642,408 642,412 643,413 643,428 646,431 651,432 652,433 661,432 668,427 670,427 678,433 690,433 691,434 698,435 702,437 710,446 717,447 718,446 722,446 725,444 727,444 734,440 743,438 751,434 758,433 766,429 773,429 777,431 784,431 793,426 797,426 801,428 838,428 838,417 836,417 832,415 823,416 812,409 803,408 791,402 776,402 775,403 771,403 770,402 766,402 762,400 757,400 756,399 746,398 742,396 728,395 727,394 724,394 711,389 705,388 694,382 689,378 686,372 686,366 617,366 616,371 612,374 608,374 606,373 602,369 602,366ZM553,366 554,367 555,372 558,375 561,375 565,369 565,366Z"/>
<path transform="translate(.5 .5)" fill="#1e3cff" stroke="#1e3cff" stroke-width="1" fill-rule="evenodd" d="M562,662 559,669 559,675 582,675 582,671 579,665 576,662 569,659 564,660ZM584,611 584,614 588,617 591,617 595,614 595,610 593,608 587,608ZM806,589 803,593 803,600 806,603 810,605 820,606 822,604 822,595 815,590 813,590 812,589ZM610,595 609,605 613,609 615,609 632,618 636,624 648,636 650,637 652,637 653,638 659,638 660,637 680,637 681,636 684,636 689,634 699,633 703,628 703,622 702,621 702,619 700,617 689,617 688,616 683,615 667,601 663,588 656,584 650,583 649,584 646,584 641,586 637,586 636,587 619,588 614,590ZM670,539 666,546 666,551 673,561 673,563 674,564 674,570 667,578 666,583 668,585 673,587 685,600 693,603 698,603 705,606 712,606 717,610 719,615 723,619 730,622 740,624 744,626 749,632 753,634 755,634 762,637 779,638 780,639 787,640 791,642 802,642 803,643 807,643 811,645 815,649 816,652 821,656 827,656 832,654 838,654 838,633 828,633 826,632 821,627 821,626 814,620 807,619 772,606 763,605 757,600 755,596 755,592 758,587 762,584 776,582 777,583 780,583 783,585 791,586 792,585 797,584 798,581 797,579 792,575 780,574 773,569 771,569 768,567 765,567 764,566 759,567 757,571 752,576 748,576 745,573 744,569 749,563 756,560 758,557 758,554 759,553 758,547 756,543 753,540 742,536 736,536 730,544 727,544 726,543 727,532 715,525 711,525 709,526 709,527 702,533 692,533 691,532 679,533 674,535ZM721,547 724,547 726,550 726,555 727,556 727,565 725,569 725,589 727,592 730,593 734,597 734,600 727,606 721,606 719,605 716,602 715,599 710,594 700,587 696,583 697,578 705,566 709,563 712,562 715,559 715,554 716,553 716,551ZM648,475 650,476 661,476 666,474 668,472 668,470 667,468 664,466 662,466 661,465 656,465 655,466 652,466 649,468 648,470ZM805,416 805,421 806,423 808,424 813,424 815,423 815,418 813,415 811,414 807,414ZM346,398 346,416 351,416 358,419 369,420 370,421 377,421 378,422 394,422 395,421 400,421 411,417 420,409 424,407 431,406 432,405 439,405 440,404 447,404 450,408 451,414 459,421 466,421 481,415 483,417 482,426 475,438 475,442 480,446 492,443 503,433 503,431 504,430 503,423 507,418 509,417 517,417 525,429 525,436 526,437 526,440 530,445 540,452 547,453 552,456 554,456 555,457 561,457 565,459 567,462 567,465 566,466 567,478 562,484 560,488 559,493 555,501 550,506 547,506 544,504 541,504 540,503 525,504 524,503 521,503 520,502 517,502 516,501 511,500 506,496 504,486 501,483 498,483 497,482 490,483 487,486 487,490 486,491 486,518 487,519 488,526 493,531 499,532 500,533 510,534 525,541 531,541 533,540 540,533 542,533 545,535 547,539 548,547 552,555 558,564 558,570 557,571 557,575 556,576 556,584 559,588 561,588 564,585 564,583 565,582 565,578 564,577 564,573 562,569 562,566 565,558 566,547 569,539 571,536 575,533 586,530 592,527 596,522 597,515 594,511 591,510 586,505 584,500 584,495 583,494 583,486 585,482 585,468 586,466 589,464 602,467 609,475 612,476 616,480 616,487 615,488 615,497 616,498 616,502 617,503 616,511 612,515 608,517 607,519 607,524 609,526 613,527 620,533 642,543 648,551 652,552 656,549 656,547 653,543 653,541 652,540 652,531 651,529 647,526 642,525 638,521 638,519 637,518 638,515 642,512 644,509 644,494 647,488 646,478 644,476 639,475 632,467 626,463 625,461 625,453 622,449 615,447 609,443 608,441 608,437 613,433 613,430 612,429 608,429 603,434 600,434 597,432 596,430 596,425 597,424 596,421 588,413 586,413 582,409 582,402 581,401 581,399 579,397 568,397 567,398 562,399 560,398 555,392 550,392 544,395 536,396 535,397 531,397 525,402 525,404 524,405 524,410 523,412 520,414 518,412 518,400 517,398 508,390 506,386 502,384 490,382 489,383 487,383 481,388 477,390 473,390 466,387 459,387 455,389 450,389 445,384 441,377 438,374 434,372 429,372 422,376 407,390 400,392 394,395 390,395 389,396 380,396 379,397 372,397 371,398ZM569,426 572,426 574,428 574,432 572,434 569,434 567,432 567,428ZM579,366 579,372 582,378 582,380 586,384 595,387 603,395 608,396 609,395 613,395 615,394 619,388 623,384 625,384 626,383 634,383 635,384 640,385 643,388 643,390 644,391 644,408 645,409 645,418 646,419 646,423 649,427 654,429 658,429 662,427 665,424 669,422 671,422 678,430 680,431 691,431 692,432 699,433 705,436 710,442 714,444 720,443 732,437 743,435 751,431 756,430 764,425 769,425 777,428 783,428 786,425 789,417 792,414 794,410 793,408 789,405 776,405 769,408 766,408 765,406 760,402 757,402 752,400 748,400 747,399 743,399 742,398 737,398 736,397 724,397 723,396 720,396 710,392 704,391 698,388 695,385 691,383 688,383 685,381 683,376 682,366 654,366 654,371 652,375 649,378 646,378 640,375 629,375 628,374 624,374 619,376 615,379 610,379 602,375 598,371 597,366ZM683,384 685,386 684,391 681,394 678,394 676,392 676,389 679,385Z"/>
<path transform="translate(.5 .5)" fill="#8200dc" stroke="#8200dc" stroke-width="1" fill-rule="evenodd" d="M564,666 564,668 563,669 563,675 579,675 578,669 576,666 572,663 567,663ZM826,640 826,644 828,646 830,646 831,647 838,647 838,637 831,637 830,638 828,638ZM726,612 726,614 730,618 734,620 749,623 752,625 761,625 772,634 779,635 780,636 783,636 788,638 804,638 805,637 808,637 809,636 811,636 815,631 814,627 810,623 792,616 781,615 778,612 772,609 762,609 760,608 749,597 747,597 746,596 744,596 740,598 739,600ZM807,596 807,599 811,602 815,602 817,601 817,597 814,594 809,594ZM614,594 614,596 613,597 613,601 614,603 618,607 628,612 635,614 645,631 648,634 652,636 678,635 679,634 683,634 691,631 695,631 699,628 699,623 697,621 683,618 673,610 665,608 662,604 662,598 660,594 657,591 651,588 644,588 643,589 637,589 636,590 619,590ZM785,579 787,582 792,582 793,581 791,578 786,578ZM560,576 559,577 559,582 561,583 562,582 562,577ZM748,539 739,538 731,547 730,549 730,555 736,562 738,562 739,563 740,562 743,562 746,560 748,560 752,558 755,555 756,553 756,547 754,543ZM722,536 718,533 715,533 708,537 697,536 696,535 685,535 684,536 681,536 676,538 671,543 669,549 672,556 677,563 679,573 681,575 690,575 695,572 699,568 701,564 705,560 708,559 710,557 713,548 722,541ZM625,520 624,522 624,529 626,531 636,536 638,536 642,538 647,538 648,536 648,532 646,530 638,527 635,524 632,518 628,517ZM628,496 626,500 628,504 631,505 635,508 639,508 641,506 641,497 638,494 633,494ZM592,515 585,507 583,503 582,497 578,490 578,488 574,483 569,483 563,488 562,493 561,494 559,502 556,507 556,509 551,515 548,515 541,508 524,508 515,503 509,502 504,500 502,498 502,490 501,488 498,486 493,486 491,487 489,491 488,520 489,521 490,526 494,530 496,530 500,532 511,533 523,539 530,539 534,535 536,530 539,527 544,526 548,530 551,547 553,551 558,555 562,552 562,550 564,547 565,541 568,535 574,530 577,530 587,526 592,521ZM655,470 655,472 657,472 658,473 660,473 663,471 663,470 660,468 658,468ZM786,410 783,408 777,409 768,417 768,421 774,424 780,424 782,422 785,416ZM528,402 527,407 526,408 526,415 525,416 525,420 529,425 528,437 529,438 529,440 537,447 539,448 546,448 550,446 553,446 558,452 560,452 561,453 571,454 572,455 583,455 584,454 587,454 598,462 603,462 611,456 616,454 616,452 614,450 611,449 603,440 596,437 593,434 591,426 580,416 579,414 579,401 575,398 571,398 566,400 562,403 560,403 554,395 549,394 541,397 534,398ZM536,430 539,427 543,427 547,430 547,432 543,435 538,433ZM566,422 573,422 578,426 579,433 575,438 569,439 568,438 566,438 563,435 562,433 562,428 563,427 563,425ZM457,391 453,396 453,401 452,402 452,412 453,414 459,419 466,419 474,416 478,412 478,410 479,409 479,406 478,405 478,402 476,397 472,393 466,390 459,390ZM502,386 500,386 499,385 490,385 485,389 483,393 483,396 486,403 491,406 493,408 494,411 486,419 484,429 482,431 479,437 479,441 481,443 485,443 486,442 491,441 501,431 501,421 502,419 506,416 509,416 515,413 515,411 516,410 516,404 515,403 515,401 514,399 508,394 505,388ZM449,392 441,380 436,375 434,374 428,374 422,378 420,381 408,392 397,396 394,396 393,397 382,397 381,398 372,398 371,399 346,400 346,411 348,411 355,416 360,418 372,419 373,420 380,420 381,421 398,420 409,416 418,408 422,406 431,405 432,404 438,404 439,403 443,403 445,402 449,397ZM649,387 649,390 648,391 648,393 649,394 649,400 647,405 647,415 648,416 649,421 653,424 659,424 665,419 672,418 673,419 675,419 678,422 679,426 681,428 688,428 690,427 698,431 701,431 702,432 707,433 713,438 717,438 720,435 724,433 737,433 738,432 742,432 747,429 749,429 753,427 757,422 757,418 758,417 758,406 757,404 752,402 748,402 743,400 723,400 722,399 718,399 715,397 701,393 693,388 690,388 687,394 683,398 681,399 674,399 672,397 671,393 672,392 673,387 675,385 678,379 678,374 676,370 676,366 659,366 659,369 658,370 657,375 654,381ZM583,366 584,375 585,376 585,378 588,381 598,385 606,392 611,392 613,391 614,389 614,385 608,382 606,382 600,378 594,372 593,370 593,366Z"/>
<path transform="translate(.5 .5)" fill="#a000c8" stroke="#a000c8" stroke-width="1" fill-rule="evenodd" d="M567,670 567,675 575,675 575,671 572,668 569,668ZM775,627 775,630 781,633 792,633 793,634 799,634 804,632 806,630 806,628 804,625 792,619 788,619 780,625 778,625ZM733,612 734,615 736,617 741,618 742,619 746,619 747,618 752,618 753,617 755,617 758,613 755,607 749,602 742,602 736,607ZM647,595 646,597 646,609 643,616 643,621 646,629 651,634 658,635 659,634 676,633 677,632 683,631 688,628 690,628 692,626 690,623 688,623 681,620 672,613 670,613 669,612 659,613 657,612 655,609 655,607 657,603 657,599 656,597 653,595ZM617,596 618,601 620,603 626,606 631,606 633,604 633,602 635,598 635,596 633,594 628,593 627,592 622,592ZM740,540 736,544 733,549 733,554 734,556 737,558 745,558 750,556 754,551 754,547 752,543 747,540ZM703,540 698,538 695,538 694,537 688,537 677,541 673,545 673,547 672,548 673,553 678,559 680,563 684,567 688,567 691,565 700,555 706,552 707,550 707,545ZM493,503 490,508 490,521 492,526 494,528 501,531 512,532 523,537 528,537 531,534 532,528 533,527 534,516 524,512 517,506 512,504 508,504 507,503 497,503 496,502ZM494,492 494,494 496,494 496,492ZM573,487 568,487 564,492 563,500 559,510 559,513 558,514 558,517 557,518 557,521 555,525 555,529 553,534 553,543 556,547 559,547 560,546 563,539 564,533 569,528 581,526 585,524 588,521 588,515 583,508 581,500 576,490ZM597,444 595,446 595,450 598,456 601,457 606,453 606,450 600,444ZM533,436 533,440 536,443 538,444 543,444 545,442 543,439ZM498,417 494,417 490,419 488,423 488,429 484,436 484,439 489,439 499,429ZM570,400 568,401 565,405 565,415 569,418 573,418 575,416 575,414 576,413 577,403 576,401 574,400ZM553,397 551,396 546,396 545,397 538,398 533,400 530,403 528,408 528,414 536,423 538,424 547,424 548,423 551,423 554,421 557,417 557,415 558,414 558,407 557,406 557,403ZM462,392 458,394 453,407 453,410 454,411 454,413 457,416 459,417 467,417 472,415 475,412 476,410 476,405 474,400 471,396 466,393 463,393ZM489,390 487,396 490,402 495,403 499,406 499,414 500,415 504,415 505,414 510,414 512,413 514,409 514,404 513,402 506,396 504,390 500,387 493,387ZM446,391 439,380 435,376 430,375 424,378 409,394 405,396 398,397 397,398 391,398 390,399 372,399 371,400 361,400 360,401 353,402 349,405 356,414 363,417 375,418 376,419 396,419 397,418 400,418 405,416 414,408 419,405 429,404 430,403 438,403 443,401 446,397ZM650,407 650,415 653,419 657,419 664,414 678,414 682,416 693,418 697,422 698,425 700,427 702,427 703,428 704,427 706,427 708,425 714,425 722,428 735,428 736,427 739,427 743,425 749,424 752,422 755,415 755,408 753,405 751,405 747,403 742,403 741,402 719,403 704,396 701,396 696,394 693,394 688,400 683,403 681,403 677,405 671,405 666,401 665,399 665,395 672,383 672,377 666,373 663,374 660,377 658,381 658,383 654,391 654,401Z"/>
<path transform="translate(.5 .5)" fill="#f00082" stroke="#f00082" stroke-width="1" fill-rule="evenodd" d="M681,625 674,617 669,615 667,615 666,616 660,616 659,617 651,617 648,620 648,628 650,631 654,633 662,633 663,632 673,631 678,629ZM752,609 749,606 745,605 744,606 742,606 739,609 739,611 738,612 741,615 748,615 752,612ZM741,542 736,548 736,553 738,555 746,555 751,551 752,549 751,545 747,542ZM695,540 686,540 678,544 675,548 675,551 678,556 683,559 688,558 692,552 699,546 699,543ZM493,510 492,512 492,521 493,522 493,524 497,528 502,529 503,530 513,531 520,534 526,534 528,532 528,521 527,519 516,508 512,506 507,505 506,506 500,506 499,507 497,507ZM569,490 566,494 565,503 563,508 563,516 564,517 564,519 567,522 569,522 570,523 579,523 583,521 584,519 584,515 581,510 581,507 580,506 580,503 578,498 572,490ZM573,403 570,403 568,405 568,411 570,413 573,411 573,409 574,408 574,404ZM506,402 503,406 503,410 505,412 509,412 511,411 512,409 512,405 509,402ZM686,408 686,410 690,413 692,413 693,414 708,415 709,416 711,416 717,421 725,424 733,422 736,418 739,416 742,416 743,417 748,418 751,416 751,414 752,413 751,408 747,406 736,406 735,407 720,408 719,407 716,407 707,401 702,399 697,399 695,400ZM551,398 543,398 542,399 539,399 535,401 531,405 530,407 530,412 537,420 539,421 546,421 550,419 554,415 555,413 555,404 554,403 554,401ZM462,395 459,397 456,403 456,405 455,406 455,411 457,414 461,416 465,416 470,414 474,410 474,406 472,401 468,397ZM502,391 499,389 494,390 492,392 492,397 493,398 499,398 502,396ZM444,391 439,384 438,381 435,378 433,377 428,377 422,382 422,383 414,391 412,395 407,399 402,399 401,400 373,400 372,401 363,401 362,402 357,403 355,405 355,408 360,414 366,415 367,416 373,416 374,417 379,417 380,418 391,418 392,417 397,417 404,414 414,404 417,404 418,403 426,403 427,402 436,402 437,401 442,400 444,397Z"/>
<path transform="translate(.5 .5)" fill="#ff6464" stroke="#ff6464" stroke-width="1" fill-rule="evenodd" d="M674,622 671,619 669,619 668,618 666,619 656,620 651,624 651,628 655,631 663,631 664,630 667,630 670,628 672,628 674,626ZM748,545 746,544 741,545 739,548 739,551 740,552 746,552 749,549ZM689,545 687,544 686,545 681,546 679,548 679,552 682,554 684,554 687,551 689,547ZM496,512 494,519 496,524 499,527 513,529 517,531 523,531 524,530 525,525 521,518 514,509 507,507 506,508 503,508ZM570,495 569,496 569,501 568,502 568,508 567,510 569,515 575,518 578,516 577,503 574,497 572,495ZM358,406 359,410 363,413 373,414 374,415 379,415 380,416 391,416 392,415 395,415 400,413 404,409 404,405 401,403 397,403 396,402 365,402 360,404ZM549,399 545,399 544,400 538,401 533,406 533,412 538,417 540,418 546,418 552,414 554,407 553,406 553,403ZM463,398 461,399 458,403 458,405 457,406 457,411 461,414 466,414 471,411 472,406 468,400ZM434,379 432,379 431,378 426,380 417,390 415,394 415,399 418,401 433,401 434,400 438,400 442,397 442,392 438,386 436,381Z"/>
<path transform="translate(.5 .5)" fill="#fa3c3c" stroke="#fa3c3c" stroke-width="1" fill-rule="evenodd" d="M667,623 661,623 660,624 658,624 656,627 657,628 662,628 663,627 665,627 667,625ZM499,515 498,517 498,521 500,524 502,525 510,525 511,526 515,526 516,527 518,527 519,526 519,524 516,521 515,515 511,510 505,510ZM362,406 362,409 365,411 379,412 380,413 391,413 392,412 394,412 397,409 395,406 393,406 392,405 365,404ZM462,402 459,406 459,409 460,411 462,412 466,412 469,409 469,405 466,402ZM539,403 537,405 536,409 541,414 548,414 551,411 552,407 550,402 548,401 543,401ZM433,381 431,380 428,381 419,391 418,396 422,399 429,399 430,398 437,398 439,397 439,392 437,390 435,386 435,384Z"/></g>
<defs><clipPath id="c1"><rect x="346" y="41" width="493" height="323"/></clipPath><clipPath id="c2"><rect x="346" y="366" width="493" height="310"/></clipPath></defs>
<g stroke="#87879b" stroke-width="1" fill="none" shape-rendering="crispEdges">
<line stroke-dasharray="2.6 6.3" x1="401.5" y1="41.5" x2="401.5" y2="364"/>
<line stroke-dasharray="2.6 6.3" x1="401.5" y1="366.5" x2="401.5" y2="676"/>
<line stroke-dasharray="2.6 6.3" x1="464.5" y1="41.5" x2="464.5" y2="364"/>
<line stroke-dasharray="2.6 6.3" x1="464.5" y1="366.5" x2="464.5" y2="676"/>
<line stroke-dasharray="2.6 6.3" x1="527.5" y1="41.5" x2="527.5" y2="364"/>
<line stroke-dasharray="2.6 6.3" x1="527.5" y1="366.5" x2="527.5" y2="676"/>
<line stroke-dasharray="2.6 6.3" x1="589.5" y1="41.5" x2="589.5" y2="364"/>
<line stroke-dasharray="2.6 6.3" x1="589.5" y1="366.5" x2="589.5" y2="676"/>
<line stroke-dasharray="2.6 6.3" x1="652.5" y1="41.5" x2="652.5" y2="364"/>
<line stroke-dasharray="2.6 6.3" x1="652.5" y1="366.5" x2="652.5" y2="676"/>
<line stroke-dasharray="2.6 6.3" x1="715.5" y1="41.5" x2="715.5" y2="364"/>
<line stroke-dasharray="2.6 6.3" x1="715.5" y1="366.5" x2="715.5" y2="676"/>
<line stroke-dasharray="2.6 6.3" x1="777.5" y1="41.5" x2="777.5" y2="364"/>
<line stroke-dasharray="2.6 6.3" x1="777.5" y1="366.5" x2="777.5" y2="676"/>
<line stroke-dasharray="2 7.04" x1="353.5" y1="53.5" x2="839" y2="53.5"/>
<line stroke-dasharray="2 7.04" x1="353.5" y1="378.5" x2="839" y2="378.5"/>
<line stroke-dasharray="2 7.04" x1="353.5" y1="116.5" x2="839" y2="116.5"/>
<line stroke-dasharray="2 7.04" x1="353.5" y1="441.5" x2="839" y2="441.5"/>
<line stroke-dasharray="2 7.04" x1="353.5" y1="178.5" x2="839" y2="178.5"/>
<line stroke-dasharray="2 7.04" x1="353.5" y1="503.5" x2="839" y2="503.5"/>
<line stroke-dasharray="2 7.04" x1="353.5" y1="241.5" x2="839" y2="241.5"/>
<line stroke-dasharray="2 7.04" x1="353.5" y1="566.5" x2="839" y2="566.5"/>
<line stroke-dasharray="2 7.04" x1="353.5" y1="304.5" x2="839" y2="304.5"/>
<line stroke-dasharray="2 7.04" x1="353.5" y1="629.5" x2="839" y2="629.5"/>
</g>
<g clip-path="url(#c1)" fill="none" stroke="#000" stroke-width="1.0" stroke-linejoin="round" shape-rendering="crispEdges">
<polyline points="480.7,61.5 482.8,63.8 483.8,66.0 484.4,63.2 484.4,61.0 487.2,59.7 490.4,56.9 491.6,53.8 491.9,50.6 493.8,48.5 496.3,46.6 499.8,46.9 500.4,45.0 506.0,45.0 508.5,43.4 512.6,41.2 514.5,39.1 518.2,37.8 519.8,40.0 518.6,41.9 514.5,43.1 516.7,46.9 516.4,48.8 514.2,53.1 514.8,56.9 517.3,58.8 520.1,57.2 519.8,53.1 517.6,48.1 517.6,47.2 520.4,46.9 524.8,44.7 525.4,43.1 524.8,40.6 528.0,39.4 528.3,43.1 528.6,44.1 531.1,43.8 536.7,45.9 538.0,48.1 539.2,50.0 545.5,49.4 551.1,49.4 552.4,51.6 557.4,52.5 560.5,51.6 563.0,50.0 565.5,49.1 570.6,48.8 574.9,48.8 577.4,48.8 574.9,49.7 571.8,50.6 573.1,52.5 575.6,53.8 579.3,54.1 583.7,57.5 584.3,61.9 589.3,62.5 590.6,63.8 595.0,66.3 598.7,70.1 600.6,73.2 605.0,76.3 607.5,78.5 611.3,78.5 615.0,78.8 619.4,78.5 626.9,79.5 631.3,81.0 637.6,85.1 640.7,87.0 642.0,89.5 644.5,90.7 645.7,95.8 647.6,102.0 652.0,105.1 652.6,108.9 650.1,112.0 647.0,115.2 644.5,116.4 647.6,117.1 649.5,116.4 655.1,116.7 661.7,117.7 663.3,120.2 668.3,119.6 673.3,121.4 677.1,122.7 681.4,124.6 684.6,126.5 685.8,130.2 687.7,131.5 689.6,132.1 693.3,130.8 698.4,132.7 703.4,134.0 707.1,134.0 711.5,133.7 715.3,134.0 720.9,137.1 724.0,139.0 728.4,143.4 732.2,145.9 735.3,147.8 739.7,147.8 742.8,148.1 744.7,152.1 746.0,156.5 747.2,160.3 746.9,165.9 745.3,171.6 741.6,176.6 737.2,181.6 733.1,184.7 730.9,187.8 727.2,194.7 724.0,197.2 721.5,199.8 720.9,203.5 720.6,208.5 721.5,214.8 720.6,219.2 720.0,224.2 719.7,227.9 716.5,231.7 716.2,238.6 713.4,242.4 710.9,246.1 708.4,250.5 708.4,253.6 704.0,256.1 702.1,259.6 695.2,259.9 689.6,260.2 685.2,261.8 680.8,264.9 675.2,266.2 670.8,269.3 665.2,273.1 662.0,276.2 660.8,279.9 660.8,285.0 661.4,289.3 660.1,293.7 657.0,296.9 653.3,300.0 650.7,305.6 647.6,310.0 642.6,315.0 638.8,317.5 635.7,323.2 630.7,327.2 628.2,331.3 623.2,334.1 621.0,334.9 615.7,333.8 613.2,334.4 608.1,332.3 602.8,331.8 599.4,328.8 599.1,330.7 599.6,332.6 602.5,334.1 606.9,337.0 606.0,340.7 609.7,343.5 610.0,347.0 605.0,353.9 597.5,357.6 589.3,359.5 580.0,360.1 576.2,359.2 574.9,362.0 576.2,365.1"/>
<polyline points="505.4,365.1 506.7,362.6 505.1,358.9 503.8,351.4 506.7,348.2 507.3,345.7 511.7,337.0 514.2,331.3 516.7,326.3 516.7,322.5 517.3,315.7 518.2,303.4 519.2,294.4 521.7,285.3 522.9,280.9 523.6,274.9 524.2,264.0 523.3,260.5 525.4,254.3 525.8,242.4 525.4,238.6 524.8,231.7 524.2,230.4 518.2,226.4 514.2,222.3 509.8,219.8 500.1,215.1 494.4,212.0 487.2,202.9 487.9,201.6 486.6,197.9 481.9,191.3 479.1,185.3 475.6,178.8 472.8,172.8 470.3,166.5 466.9,162.2 464.4,158.4 457.2,152.1 458.7,150.9 457.2,147.8 455.7,145.1 457.5,141.5 460.9,137.7 462.8,136.8 464.7,134.6 465.6,131.5 464.7,129.6 462.2,132.1 458.4,130.2 457.8,129.6 459.4,127.7 459.0,125.2 458.4,122.4 459.7,121.8 461.2,119.6 460.9,118.0 463.7,115.4 463.4,110.8 466.2,109.5 470.3,108.3 471.6,106.7 471.9,104.5 473.4,100.1 477.8,99.5 479.7,95.8 482.2,91.4 480.3,88.9 480.7,84.5 479.4,81.3 481.0,79.5 480.3,77.0 479.7,73.8 477.2,70.7 475.3,68.8 474.1,65.4 476.0,63.2 473.4,62.5 470.3,59.7 467.2,59.7 465.6,61.9 462.8,63.8 461.5,64.4 461.9,66.3 464.0,68.8 461.5,70.4 458.4,70.7 457.8,68.2 456.5,67.9 453.4,65.4 450.3,64.1 445.9,65.4 445.3,63.5 443.4,63.2 440.9,62.9 441.5,61.3 440.9,59.4 437.7,56.6 434.9,55.7 433.7,53.5 432.1,55.7 428.7,53.8 427.4,50.6 428.3,47.5 427.4,46.3 423.3,42.5 420.2,39.4"/>
<polyline points="440.9,39.4 441.2,46.9 442.1,50.0 445.3,53.1 447.8,55.7 450.0,56.9 452.8,59.4 456.5,60.7 459.0,60.0 464.0,57.5 464.7,57.2 466.9,55.7 470.3,56.0 473.4,56.6 476.6,57.8 479.1,60.0 480.7,61.5"/>
<polyline points="649.5,116.4 655.1,116.7 661.7,117.7 661.4,121.4 658.9,125.2 655.1,126.5 648.9,127.1 647.0,122.1 647.6,117.7 649.5,116.4"/>
<polyline points="644.5,116.4 643.9,123.3 647.0,127.7 653.3,127.7 658.3,126.5 661.4,124.9 663.3,120.2"/>
<polyline points="577.8,52.5 582.8,52.2 583.1,48.5 579.6,48.8 580.3,51.0 577.8,52.5"/>
<polyline points="480.7,61.5 481.6,66.0 478.1,67.6 477.2,70.7"/>
<polyline points="448.1,56.0 445.6,58.8 446.2,61.9 445.9,65.4"/>
<polyline points="440.9,47.3 434.6,46.6 428.3,46.4"/>
<polyline points="518.4,41.6 512.6,45.9 508.5,50.3 507.9,54.4 505.7,58.2 509.2,58.8 512.0,63.5 511.4,66.3 511.4,69.4 514.2,71.9 520.4,71.9 526.1,72.3 530.1,77.6 542.7,77.0 540.5,82.6 540.2,87.6 541.7,92.3 543.6,94.5 540.2,98.3 544.2,101.4 546.4,108.1"/>
<polyline points="546.4,108.1 544.9,105.1 543.0,102.3 538.3,103.6 538.0,104.8 528.0,105.1 527.6,109.1 531.7,109.5 532.3,111.7 526.4,112.4 526.4,116.7 530.5,122.1 530.5,124.3 527.0,142.1"/>
<polyline points="527.0,142.1 524.8,139.6 522.3,139.6 526.4,132.7 524.8,131.5 516.0,129.6 508.5,130.8 506.7,127.1 501.6,122.1 496.6,117.1 493.8,116.6"/>
<polyline points="493.8,116.6 491.6,115.5 487.2,113.3 482.2,113.6 478.5,110.8 474.1,108.3 471.3,106.8"/>
<polyline points="462.2,137.1 462.8,140.2 461.2,143.4 465.9,144.0 469.7,146.8 472.2,144.6 474.4,137.1 477.8,134.3 485.0,131.8 491.9,125.5 493.8,121.8 493.8,116.6"/>
<polyline points="527.0,142.1 525.4,143.1 521.7,142.1 515.4,144.0 508.8,148.1 506.7,153.4 507.0,156.8 503.2,161.5 501.8,163.1 506.7,174.7 511.7,175.3 513.2,178.4 519.2,178.4 522.6,175.3 523.6,175.0 522.9,184.7 529.4,184.4"/>
<polyline points="529.4,184.4 535.2,194.1 533.3,196.6 533.0,205.4 530.8,208.5 532.0,211.7 529.2,213.5 533.0,217.3 528.9,224.2 530.0,225.4"/>
<polyline points="530.0,225.4 524.3,230.8"/>
<polyline points="530.0,225.4 532.3,228.6 533.3,234.8 536.1,238.0 536.4,246.7 538.0,251.1 540.2,259.0 544.4,258.6"/>
<polyline points="544.4,258.6 545.5,259.9 543.3,266.2 537.4,269.3 535.8,274.3 536.4,280.6 537.4,284.3 532.3,289.3 528.9,293.7 527.0,298.7 526.7,305.6 523.3,311.3 525.1,315.7 526.1,323.2 528.0,324.4 527.6,330.1 524.8,333.8 523.9,337.0 524.2,342.0 519.8,345.1 519.5,351.4 521.4,357.6 517.9,359.8 516.0,365.1"/>
<polyline points="529.4,184.4 534.4,184.7 538.6,182.8 541.1,182.8 547.4,177.8 555.5,176.6 556.1,183.5 556.1,189.1 558.0,190.7 561.8,193.8 568.0,195.1 571.8,197.2 577.8,200.4 586.2,202.3 587.8,210.4 588.1,217.6 599.4,217.9 599.7,223.9 603.4,225.8 604.7,229.8 603.1,234.8 600.9,239.8 600.8,242.2"/>
<polyline points="600.8,242.2 595.0,237.0 589.3,236.7 578.4,238.9 575.1,244.5 572.7,255.2"/>
<polyline points="572.7,255.2 571.8,253.6 564.6,253.6 562.1,259.0 560.5,254.9 556.8,254.3 550.2,252.4 544.4,258.6"/>
<polyline points="572.7,255.2 583.1,264.9 589.3,266.5 596.9,271.2 604.4,274.3 598.1,286.8 608.1,287.8 612.5,287.5 615.0,287.1 622.6,281.8 623.2,276.2"/>
<polyline points="600.8,242.2 602.8,245.8 602.5,254.3 608.8,255.2 613.2,255.2 616.3,256.8 616.9,261.8 618.2,265.8 625.1,266.5 625.1,269.9 623.2,275.9"/>
<polyline points="623.2,276.2 627.9,276.5 629.1,280.3 628.2,285.9 621.9,288.4 616.0,292.8 609.4,300.6 604.2,305.0"/>
<polyline points="604.2,305.0 609.4,304.4 614.4,308.8 616.9,309.1 623.2,312.8 628.5,316.9 632.3,321.0 630.7,327.2"/>
<polyline points="604.2,305.0 602.8,309.4 600.9,316.3 600.6,322.5 599.4,328.8"/>
<polyline points="546.4,108.1 549.9,111.1 554.9,111.4 558.0,108.6 563.0,106.4 564.0,103.6 568.0,102.3 568.0,100.8 564.3,100.1 563.0,93.2 563.0,90.1 571.2,93.2 572.4,90.4 583.1,87.6 584.8,83.2"/>
<polyline points="584.8,83.2 580.7,78.5 582.3,77.0 582.1,73.8 587.5,71.9 585.6,70.1 589.3,65.7 590.6,63.5"/>
<polyline points="584.8,83.2 588.7,83.2 589.5,87.6 591.2,88.2 592.2,91.1 590.3,93.2 590.6,101.4 590.9,103.9 595.6,107.7 598.7,107.7 601.9,106.4 606.3,103.6 611.4,103.6"/>
<polyline points="607.5,78.5 606.3,82.6 606.3,84.5 602.5,87.0 601.6,90.7 604.1,94.8 606.3,94.8 606.9,98.3 611.4,103.6"/>
<polyline points="611.4,103.6 614.4,104.2 615.0,103.3 620.7,99.8 623.2,101.2"/>
<polyline points="626.9,79.5 624.1,84.5 624.7,90.1 626.9,93.2 625.7,98.3 623.2,101.2"/>
<polyline points="623.2,101.2 628.2,101.4 633.5,102.0 636.0,99.5 637.6,95.8 641.3,91.1 641.7,89.8"/>
<polyline points="392.0,115.2 392.0,122.1 395.1,121.4 394.2,118.9 395.8,117.4 393.9,115.5 392.0,115.2"/>
<polyline points="398.3,119.6 400.8,119.2"/>
<polyline points="403.9,120.8 405.8,121.4"/>
<polyline points="619.4,84.5 621.3,85.1 621.0,87.6 619.4,87.3 619.4,84.5"/>
<polyline points="680.8,229.8 682.4,231.1 681.4,234.5 680.2,233.6 680.8,229.8"/>
<polyline points="674.6,244.9 679.6,247.4 677.1,245.5 677.7,248.6 677.1,245.5 678.9,244.2"/>
<polyline points="635.7,317.5 632.6,321.9 630.1,324.4 632.0,320.0 635.7,317.5"/>
<polyline points="527.3,211.7 531.1,213.5 533.6,217.9 531.7,218.5 529.2,216.0 526.7,214.2 527.3,211.7"/>
<polyline points="645.1,305.0 648.2,306.3 645.7,310.0 641.3,314.4 638.8,316.9 638.2,315.0 643.2,310.0 644.5,306.9 645.1,305.0"/>
</g>
<g clip-path="url(#c2)" fill="none" stroke="#000" stroke-width="1.0" stroke-linejoin="round" shape-rendering="crispEdges">
<polyline points="480.7,386.5 482.8,388.8 483.8,391.0 484.4,388.2 484.4,386.0 487.2,384.7 490.4,381.9 491.6,378.8 491.9,375.6 493.8,373.5 496.3,371.6 499.8,371.9 500.4,370.0 506.0,370.0 508.5,368.4 512.6,366.2 514.5,364.1 518.2,362.8 519.8,365.0 518.6,366.9 514.5,368.1 516.7,371.9 516.4,373.8 514.2,378.1 514.8,381.9 517.3,383.8 520.1,382.2 519.8,378.1 517.6,373.1 517.6,372.2 520.4,371.9 524.8,369.7 525.4,368.1 524.8,365.6 528.0,364.4 528.3,368.1 528.6,369.1 531.1,368.8 536.7,370.9 538.0,373.1 539.2,375.0 545.5,374.4 551.1,374.4 552.4,376.6 557.4,377.5 560.5,376.6 563.0,375.0 565.5,374.1 570.6,373.8 574.9,373.8 577.4,373.8 574.9,374.7 571.8,375.6 573.1,377.5 575.6,378.8 579.3,379.1 583.7,382.5 584.3,386.9 589.3,387.5 590.6,388.8 595.0,391.3 598.7,395.1 600.6,398.2 605.0,401.3 607.5,403.5 611.3,403.5 615.0,403.8 619.4,403.5 626.9,404.5 631.3,406.0 637.6,410.1 640.7,412.0 642.0,414.5 644.5,415.7 645.7,420.8 647.6,427.0 652.0,430.1 652.6,433.9 650.1,437.0 647.0,440.2 644.5,441.4 647.6,442.1 649.5,441.4 655.1,441.7 661.7,442.7 663.3,445.2 668.3,444.6 673.3,446.4 677.1,447.7 681.4,449.6 684.6,451.5 685.8,455.2 687.7,456.5 689.6,457.1 693.3,455.8 698.4,457.7 703.4,459.0 707.1,459.0 711.5,458.7 715.3,459.0 720.9,462.1 724.0,464.0 728.4,468.4 732.2,470.9 735.3,472.8 739.7,472.8 742.8,473.1 744.7,477.1 746.0,481.5 747.2,485.3 746.9,490.9 745.3,496.6 741.6,501.6 737.2,506.6 733.1,509.7 730.9,512.8 727.2,519.7 724.0,522.2 721.5,524.8 720.9,528.5 720.6,533.5 721.5,539.8 720.6,544.2 720.0,549.2 719.7,552.9 716.5,556.7 716.2,563.6 713.4,567.4 710.9,571.1 708.4,575.5 708.4,578.6 704.0,581.1 702.1,584.6 695.2,584.9 689.6,585.2 685.2,586.8 680.8,589.9 675.2,591.2 670.8,594.3 665.2,598.1 662.0,601.2 660.8,604.9 660.8,610.0 661.4,614.3 660.1,618.7 657.0,621.9 653.3,625.0 650.7,630.6 647.6,635.0 642.6,640.0 638.8,642.5 635.7,648.2 630.7,652.2 628.2,656.3 623.2,659.1 621.0,659.9 615.7,658.8 613.2,659.4 608.1,657.3 602.8,656.8 599.4,653.8 599.1,655.7 599.6,657.6 602.5,659.1 606.9,662.0 606.0,665.7 609.7,668.5 610.0,672.0 605.0,678.9 597.5,682.6 589.3,684.5 580.0,685.1 576.2,684.2 574.9,687.0 576.2,690.1"/>
<polyline points="505.4,690.1 506.7,687.6 505.1,683.9 503.8,676.4 506.7,673.2 507.3,670.7 511.7,662.0 514.2,656.3 516.7,651.3 516.7,647.5 517.3,640.7 518.2,628.4 519.2,619.4 521.7,610.3 522.9,605.9 523.6,599.9 524.2,589.0 523.3,585.5 525.4,579.3 525.8,567.4 525.4,563.6 524.8,556.7 524.2,555.4 518.2,551.4 514.2,547.3 509.8,544.8 500.1,540.1 494.4,537.0 487.2,527.9 487.9,526.6 486.6,522.9 481.9,516.3 479.1,510.3 475.6,503.8 472.8,497.8 470.3,491.5 466.9,487.2 464.4,483.4 457.2,477.1 458.7,475.9 457.2,472.8 455.7,470.1 457.5,466.5 460.9,462.7 462.8,461.8 464.7,459.6 465.6,456.5 464.7,454.6 462.2,457.1 458.4,455.2 457.8,454.6 459.4,452.7 459.0,450.2 458.4,447.4 459.7,446.8 461.2,444.6 460.9,443.0 463.7,440.4 463.4,435.8 466.2,434.5 470.3,433.3 471.6,431.7 471.9,429.5 473.4,425.1 477.8,424.5 479.7,420.8 482.2,416.4 480.3,413.9 480.7,409.5 479.4,406.3 481.0,404.5 480.3,402.0 479.7,398.8 477.2,395.7 475.3,393.8 474.1,390.4 476.0,388.2 473.4,387.5 470.3,384.7 467.2,384.7 465.6,386.9 462.8,388.8 461.5,389.4 461.9,391.3 464.0,393.8 461.5,395.4 458.4,395.7 457.8,393.2 456.5,392.9 453.4,390.4 450.3,389.1 445.9,390.4 445.3,388.5 443.4,388.2 440.9,387.9 441.5,386.3 440.9,384.4 437.7,381.6 434.9,380.7 433.7,378.5 432.1,380.7 428.7,378.8 427.4,375.6 428.3,372.5 427.4,371.3 423.3,367.5 420.2,364.4"/>
<polyline points="440.9,364.4 441.2,371.9 442.1,375.0 445.3,378.1 447.8,380.7 450.0,381.9 452.8,384.4 456.5,385.7 459.0,385.0 464.0,382.5 464.7,382.2 466.9,380.7 470.3,381.0 473.4,381.6 476.6,382.8 479.1,385.0 480.7,386.5"/>
<polyline points="649.5,441.4 655.1,441.7 661.7,442.7 661.4,446.4 658.9,450.2 655.1,451.5 648.9,452.1 647.0,447.1 647.6,442.7 649.5,441.4"/>
<polyline points="644.5,441.4 643.9,448.3 647.0,452.7 653.3,452.7 658.3,451.5 661.4,449.9 663.3,445.2"/>
<polyline points="577.8,377.5 582.8,377.2 583.1,373.5 579.6,373.8 580.3,376.0 577.8,377.5"/>
<polyline points="480.7,386.5 481.6,391.0 478.1,392.6 477.2,395.7"/>
<polyline points="448.1,381.0 445.6,383.8 446.2,386.9 445.9,390.4"/>
<polyline points="440.9,372.3 434.6,371.6 428.3,371.4"/>
<polyline points="518.4,366.6 512.6,370.9 508.5,375.3 507.9,379.4 505.7,383.2 509.2,383.8 512.0,388.5 511.4,391.3 511.4,394.4 514.2,396.9 520.4,396.9 526.1,397.3 530.1,402.6 542.7,402.0 540.5,407.6 540.2,412.6 541.7,417.3 543.6,419.5 540.2,423.3 544.2,426.4 546.4,433.1"/>
<polyline points="546.4,433.1 544.9,430.1 543.0,427.3 538.3,428.6 538.0,429.8 528.0,430.1 527.6,434.1 531.7,434.5 532.3,436.7 526.4,437.4 526.4,441.7 530.5,447.1 530.5,449.3 527.0,467.1"/>
<polyline points="527.0,467.1 524.8,464.6 522.3,464.6 526.4,457.7 524.8,456.5 516.0,454.6 508.5,455.8 506.7,452.1 501.6,447.1 496.6,442.1 493.8,441.6"/>
<polyline points="493.8,441.6 491.6,440.5 487.2,438.3 482.2,438.6 478.5,435.8 474.1,433.3 471.3,431.8"/>
<polyline points="462.2,462.1 462.8,465.2 461.2,468.4 465.9,469.0 469.7,471.8 472.2,469.6 474.4,462.1 477.8,459.3 485.0,456.8 491.9,450.5 493.8,446.8 493.8,441.6"/>
<polyline points="527.0,467.1 525.4,468.1 521.7,467.1 515.4,469.0 508.8,473.1 506.7,478.4 507.0,481.8 503.2,486.5 501.8,488.1 506.7,499.7 511.7,500.3 513.2,503.4 519.2,503.4 522.6,500.3 523.6,500.0 522.9,509.7 529.4,509.4"/>
<polyline points="529.4,509.4 535.2,519.1 533.3,521.6 533.0,530.4 530.8,533.5 532.0,536.7 529.2,538.5 533.0,542.3 528.9,549.2 530.0,550.4"/>
<polyline points="530.0,550.4 524.3,555.8"/>
<polyline points="530.0,550.4 532.3,553.6 533.3,559.8 536.1,563.0 536.4,571.7 538.0,576.1 540.2,584.0 544.4,583.6"/>
<polyline points="544.4,583.6 545.5,584.9 543.3,591.2 537.4,594.3 535.8,599.3 536.4,605.6 537.4,609.3 532.3,614.3 528.9,618.7 527.0,623.7 526.7,630.6 523.3,636.3 525.1,640.7 526.1,648.2 528.0,649.4 527.6,655.1 524.8,658.8 523.9,662.0 524.2,667.0 519.8,670.1 519.5,676.4 521.4,682.6 517.9,684.8 516.0,690.1"/>
<polyline points="529.4,509.4 534.4,509.7 538.6,507.8 541.1,507.8 547.4,502.8 555.5,501.6 556.1,508.5 556.1,514.1 558.0,515.7 561.8,518.8 568.0,520.1 571.8,522.2 577.8,525.4 586.2,527.3 587.8,535.4 588.1,542.6 599.4,542.9 599.7,548.9 603.4,550.8 604.7,554.8 603.1,559.8 600.9,564.8 600.8,567.2"/>
<polyline points="600.8,567.2 595.0,562.0 589.3,561.7 578.4,563.9 575.1,569.5 572.7,580.2"/>
<polyline points="572.7,580.2 571.8,578.6 564.6,578.6 562.1,584.0 560.5,579.9 556.8,579.3 550.2,577.4 544.4,583.6"/>
<polyline points="572.7,580.2 583.1,589.9 589.3,591.5 596.9,596.2 604.4,599.3 598.1,611.8 608.1,612.8 612.5,612.5 615.0,612.1 622.6,606.8 623.2,601.2"/>
<polyline points="600.8,567.2 602.8,570.8 602.5,579.3 608.8,580.2 613.2,580.2 616.3,581.8 616.9,586.8 618.2,590.8 625.1,591.5 625.1,594.9 623.2,600.9"/>
<polyline points="623.2,601.2 627.9,601.5 629.1,605.3 628.2,610.9 621.9,613.4 616.0,617.8 609.4,625.6 604.2,630.0"/>
<polyline points="604.2,630.0 609.4,629.4 614.4,633.8 616.9,634.1 623.2,637.8 628.5,641.9 632.3,646.0 630.7,652.2"/>
<polyline points="604.2,630.0 602.8,634.4 600.9,641.3 600.6,647.5 599.4,653.8"/>
<polyline points="546.4,433.1 549.9,436.1 554.9,436.4 558.0,433.6 563.0,431.4 564.0,428.6 568.0,427.3 568.0,425.8 564.3,425.1 563.0,418.2 563.0,415.1 571.2,418.2 572.4,415.4 583.1,412.6 584.8,408.2"/>
<polyline points="584.8,408.2 580.7,403.5 582.3,402.0 582.1,398.8 587.5,396.9 585.6,395.1 589.3,390.7 590.6,388.5"/>
<polyline points="584.8,408.2 588.7,408.2 589.5,412.6 591.2,413.2 592.2,416.1 590.3,418.2 590.6,426.4 590.9,428.9 595.6,432.7 598.7,432.7 601.9,431.4 606.3,428.6 611.4,428.6"/>
<polyline points="607.5,403.5 606.3,407.6 606.3,409.5 602.5,412.0 601.6,415.7 604.1,419.8 606.3,419.8 606.9,423.3 611.4,428.6"/>
<polyline points="611.4,428.6 614.4,429.2 615.0,428.3 620.7,424.8 623.2,426.2"/>
<polyline points="626.9,404.5 624.1,409.5 624.7,415.1 626.9,418.2 625.7,423.3 623.2,426.2"/>
<polyline points="623.2,426.2 628.2,426.4 633.5,427.0 636.0,424.5 637.6,420.8 641.3,416.1 641.7,414.8"/>
<polyline points="392.0,440.2 392.0,447.1 395.1,446.4 394.2,443.9 395.8,442.4 393.9,440.5 392.0,440.2"/>
<polyline points="398.3,444.6 400.8,444.2"/>
<polyline points="403.9,445.8 405.8,446.4"/>
<polyline points="619.4,409.5 621.3,410.1 621.0,412.6 619.4,412.3 619.4,409.5"/>
<polyline points="680.8,554.8 682.4,556.1 681.4,559.5 680.2,558.6 680.8,554.8"/>
<polyline points="674.6,569.9 679.6,572.4 677.1,570.5 677.7,573.6 677.1,570.5 678.9,569.2"/>
<polyline points="635.7,642.5 632.6,646.9 630.1,649.4 632.0,645.0 635.7,642.5"/>
<polyline points="527.3,536.7 531.1,538.5 533.6,542.9 531.7,543.5 529.2,541.0 526.7,539.2 527.3,536.7"/>
<polyline points="645.1,630.0 648.2,631.3 645.7,635.0 641.3,639.4 638.8,641.9 638.2,640.0 643.2,635.0 644.5,631.9 645.1,630.0"/>
</g>
<g id="txt" stroke="#fff" stroke-width="0.4" paint-order="fill stroke">
<text x="358" y="27" font-size="29" textLength="438" lengthAdjust="spacingAndGlyphs" letter-spacing="3" style="font-family:'DejaVu Sans Light','DejaVu Sans','Liberation Sans',sans-serif;font-weight:200" stroke="#000" stroke-width="0.8">Precipitation Forecast</text>
<text x="89.3" y="63.5" font-size="17" textLength="151.5" lengthAdjust="spacing">Precipitation (mm)</text>
<text x="92.5" y="88.5" font-size="17" textLength="146" lengthAdjust="spacing">during the period:</text>
<text x="58" y="168.5" font-size="17" textLength="214" lengthAdjust="spacing">Tue, 12 NOV 2013 at 00Z</text>
<text x="144" y="196" font-size="17" textLength="42" lengthAdjust="spacingAndGlyphs">-to-</text>
<text x="58" y="228.5" font-size="17" textLength="214" lengthAdjust="spacing">Tue, 19 NOV 2013 at 12Z</text>
<text x="56" y="493.5" font-size="17" textLength="218" lengthAdjust="spacing">Wed, 20 NOV 2013 at 00Z</text>
<text x="144" y="521" font-size="17" textLength="42" lengthAdjust="spacingAndGlyphs">-to-</text>
<text x="57.3" y="553.5" font-size="17" textLength="215.5" lengthAdjust="spacing">Thu, 28 NOV 2013 at 00Z</text>
<text stroke-width="0.15" x="136.3" y="412" font-size="14.5" textLength="78" lengthAdjust="spacing">millimeters</text>
<g font-size="14" text-anchor="middle" stroke="none">
<text x="31" y="391" textLength="6.2" lengthAdjust="spacingAndGlyphs">2</text><text x="57" y="391" textLength="6.2" lengthAdjust="spacingAndGlyphs">5</text><text x="83" y="391" textLength="12.4" lengthAdjust="spacingAndGlyphs">10</text><text x="109" y="391" textLength="12.4" lengthAdjust="spacingAndGlyphs">20</text>
<text x="135" y="391" textLength="12.4" lengthAdjust="spacingAndGlyphs">35</text><text x="161" y="391" textLength="12.4" lengthAdjust="spacingAndGlyphs">50</text><text x="187" y="391" textLength="12.4" lengthAdjust="spacingAndGlyphs">65</text><text x="213" y="391" textLength="12.4" lengthAdjust="spacingAndGlyphs">80</text>
<text x="239" y="391" textLength="19.0" lengthAdjust="spacingAndGlyphs">100</text><text x="265" y="391" textLength="19.0" lengthAdjust="spacingAndGlyphs">125</text><text x="291" y="391" textLength="19.0" lengthAdjust="spacingAndGlyphs">150</text><text x="317" y="391" textLength="19.0" lengthAdjust="spacingAndGlyphs">200</text>
</g>
</g>
<g id="legend" stroke="#000" stroke-width="1">
<polygon points="5.5,363 31.5,350.5 31.5,375.5" fill="#f0e6dc"/>
<rect x="31.5" y="350.5" width="26" height="25" fill="#e6dc32"/>
<rect x="57.5" y="350.5" width="26" height="25" fill="#a0e632"/>
<rect x="83.5" y="350.5" width="26" height="25" fill="#00dc00"/>
<rect x="109.5" y="350.5" width="26" height="25" fill="#00d28c"/>
<rect x="135.5" y="350.5" width="26" height="25" fill="#00c8c8"/>
<rect x="161.5" y="350.5" width="26" height="25" fill="#00a0ff"/>
<rect x="187.5" y="350.5" width="26" height="25" fill="#1e3cff"/>
<rect x="213.5" y="350.5" width="26" height="25" fill="#8200dc"/>
<rect x="239.5" y="350.5" width="26" height="25" fill="#a000c8"/>
<rect x="265.5" y="350.5" width="26" height="25" fill="#f00082"/>
<rect x="291.5" y="350.5" width="26" height="25" fill="#ff6464"/>
<polygon points="317.5,350.5 343.5,363 317.5,375.5" fill="#fa3c3c"/>
</g>
<g id="frame" fill="#000">
<rect x="344" y="39" width="497" height="2"/>
<rect x="344" y="39" width="2" height="637"/>
<rect x="839" y="39" width="2" height="637"/>
<rect x="344" y="364" width="497" height="2"/>
</g>
</svg>
</body></html>
